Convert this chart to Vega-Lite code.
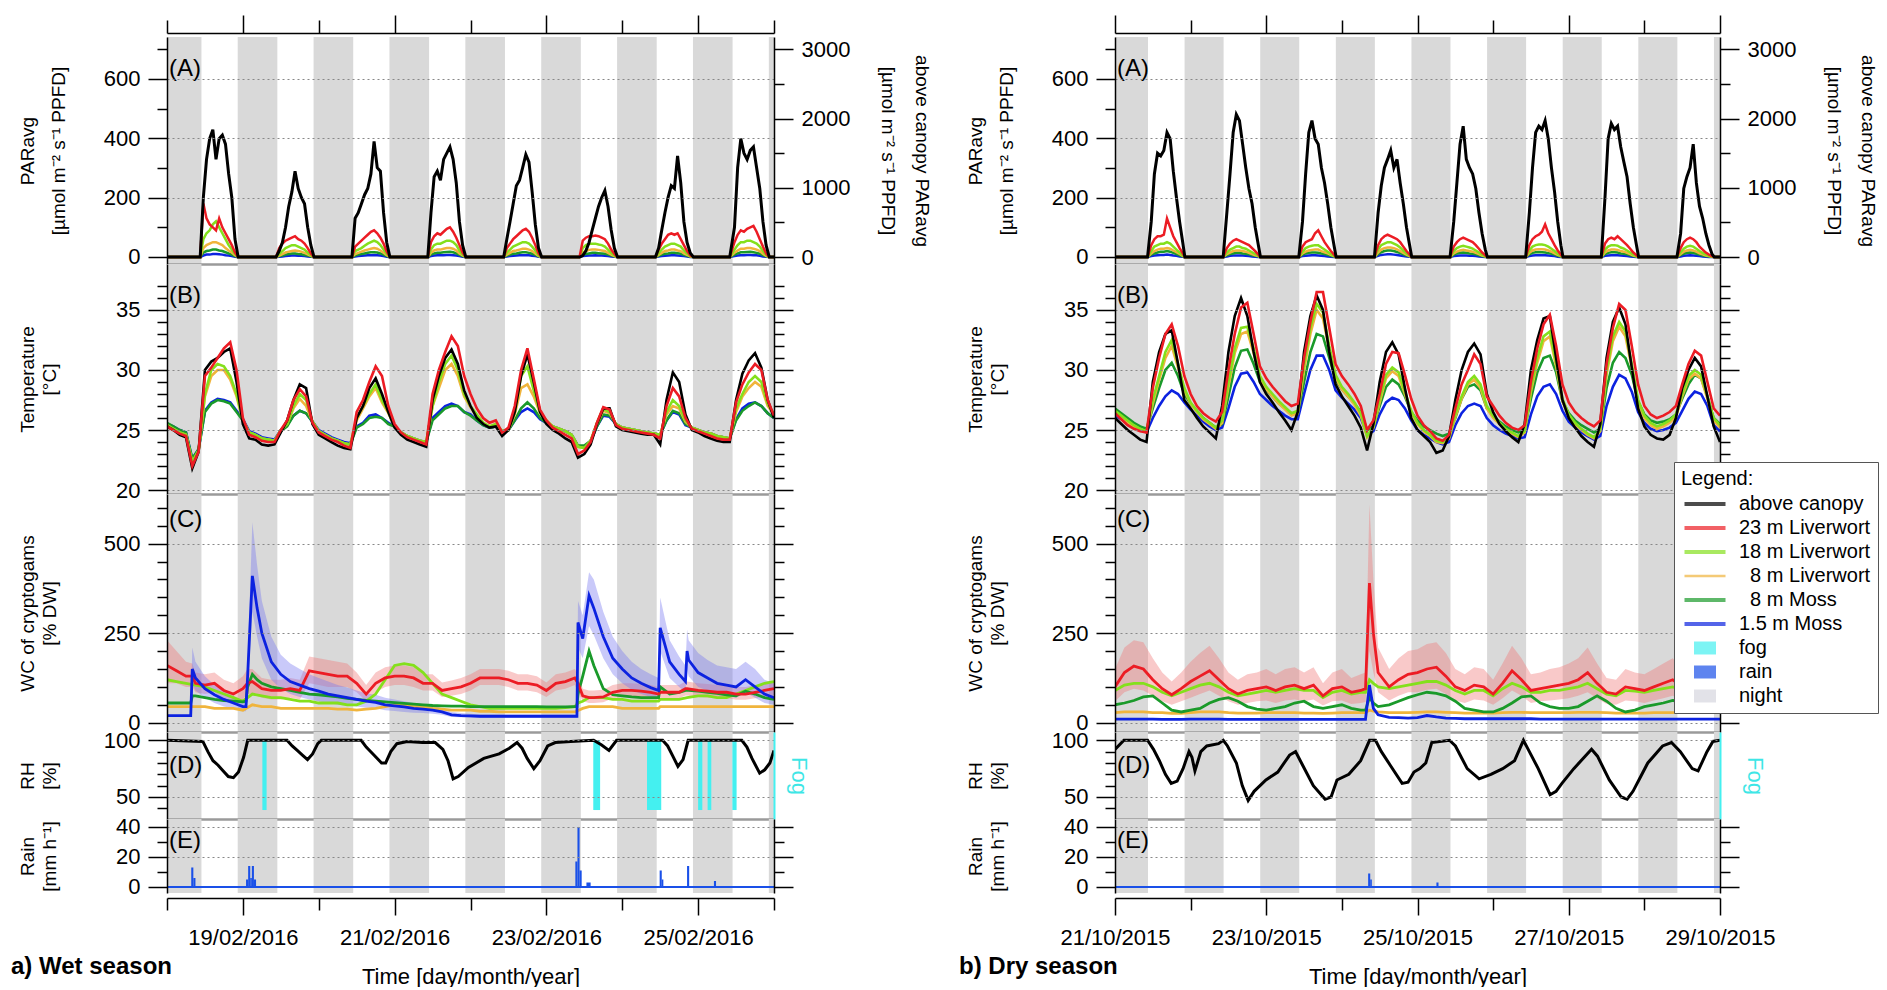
{
"$schema":"https://vega.github.io/schema/vega-lite/v6.json",
"background":"white",
"padding":{"left":11,"top":14,"right":0,"bottom":0},
"config":{"font":"Liberation Sans","view":{"stroke":null},
 "axis":{"labelFont":"Liberation Sans","titleFont":"Liberation Sans","labelColor":"#000","titleColor":"#000","titleFontWeight":"normal","domainColor":"#000","tickColor":"#000","labelFontSize":22,"titleFontSize":19,"labelOverlap":false,"labelBound":false},
 "text":{"font":"Liberation Sans","fontSize":24,"color":"#000"},
 "title":{"font":"Liberation Sans","color":"#000"}},
"datasets":{
"wN":[{"s":"2016-02-18T00:00","e":"2016-02-18T10:54"},{"s":"2016-02-18T22:22","e":"2016-02-19T10:54"},{"s":"2016-02-19T22:22","e":"2016-02-20T10:54"},{"s":"2016-02-20T22:22","e":"2016-02-21T10:54"},{"s":"2016-02-21T22:22","e":"2016-02-22T10:54"},{"s":"2016-02-22T22:22","e":"2016-02-23T10:54"},{"s":"2016-02-23T22:22","e":"2016-02-24T10:54"},{"s":"2016-02-24T22:22","e":"2016-02-25T10:54"},{"s":"2016-02-25T22:22","e":"2016-02-26T00:00"}],
"dN":[{"s":"2015-10-21T00:00","e":"2015-10-21T10:28"},{"s":"2015-10-21T22:05","e":"2015-10-22T10:28"},{"s":"2015-10-22T22:05","e":"2015-10-23T10:28"},{"s":"2015-10-23T22:05","e":"2015-10-24T10:28"},{"s":"2015-10-24T22:05","e":"2015-10-25T10:28"},{"s":"2015-10-25T22:05","e":"2015-10-26T10:28"},{"s":"2015-10-26T22:05","e":"2015-10-27T10:28"},{"s":"2015-10-27T22:05","e":"2015-10-28T10:28"},{"s":"2015-10-28T22:05","e":"2015-10-29T00:00"}],
"wA":[
{"t":"2016-02-18T00:00","k":0,"r":0,"l":0,"o":0,"g":0,"b":0},
{"t":"2016-02-18T10:30","k":0,"r":0,"l":0,"o":0,"g":0,"b":0},
{"t":"2016-02-18T11:30","k":860,"r":180,"l":60,"o":30,"g":15,"b":5},
{"t":"2016-02-18T12:30","k":1410,"r":130,"l":80,"o":40,"g":20,"b":8},
{"t":"2016-02-18T13:30","k":1710,"r":110,"l":90,"o":45,"g":22,"b":8},
{"t":"2016-02-18T14:30","k":1840,"r":100,"l":110,"o":50,"g":25,"b":10},
{"t":"2016-02-18T15:30","k":1410,"r":90,"l":120,"o":50,"g":25,"b":10},
{"t":"2016-02-18T16:30","k":1710,"r":130,"l":100,"o":45,"g":22,"b":9},
{"t":"2016-02-18T17:30","k":1760,"r":100,"l":80,"o":40,"g":20,"b":8},
{"t":"2016-02-18T18:30","k":1630,"r":80,"l":60,"o":30,"g":16,"b":6},
{"t":"2016-02-18T19:30","k":1200,"r":60,"l":40,"o":22,"g":12,"b":5},
{"t":"2016-02-18T20:30","k":860,"r":40,"l":25,"o":15,"g":8,"b":3},
{"t":"2016-02-18T21:30","k":260,"r":15,"l":10,"o":6,"g":3,"b":1},
{"t":"2016-02-18T22:30","k":0,"r":0,"l":0,"o":0,"g":0,"b":0},
{"t":"2016-02-19T10:30","k":0,"r":0,"l":0,"o":0,"g":0,"b":0},
{"t":"2016-02-19T11:30","k":90,"r":30,"l":10,"o":5,"g":3,"b":1},
{"t":"2016-02-19T12:30","k":210,"r":45,"l":20,"o":10,"g":5,"b":2},
{"t":"2016-02-19T13:30","k":430,"r":55,"l":30,"o":15,"g":8,"b":3},
{"t":"2016-02-19T14:30","k":730,"r":60,"l":35,"o":18,"g":10,"b":4},
{"t":"2016-02-19T15:30","k":940,"r":65,"l":40,"o":20,"g":12,"b":5},
{"t":"2016-02-19T16:30","k":1240,"r":70,"l":40,"o":22,"g":12,"b":5},
{"t":"2016-02-19T17:30","k":990,"r":60,"l":35,"o":20,"g":10,"b":4},
{"t":"2016-02-19T18:30","k":860,"r":55,"l":30,"o":18,"g":9,"b":4},
{"t":"2016-02-19T19:30","k":770,"r":45,"l":25,"o":14,"g":7,"b":3},
{"t":"2016-02-19T20:30","k":430,"r":30,"l":15,"o":9,"g":5,"b":2},
{"t":"2016-02-19T21:30","k":170,"r":12,"l":6,"o":4,"g":2,"b":1},
{"t":"2016-02-19T22:30","k":0,"r":0,"l":0,"o":0,"g":0,"b":0},
{"t":"2016-02-20T10:30","k":0,"r":0,"l":0,"o":0,"g":0,"b":0},
{"t":"2016-02-20T11:30","k":560,"r":35,"l":20,"o":10,"g":5,"b":2},
{"t":"2016-02-20T12:30","k":640,"r":45,"l":25,"o":14,"g":8,"b":3},
{"t":"2016-02-20T13:30","k":770,"r":55,"l":30,"o":18,"g":10,"b":4},
{"t":"2016-02-20T14:30","k":900,"r":65,"l":38,"o":22,"g":12,"b":5},
{"t":"2016-02-20T15:30","k":990,"r":75,"l":45,"o":25,"g":14,"b":6},
{"t":"2016-02-20T16:30","k":1200,"r":85,"l":50,"o":28,"g":16,"b":6},
{"t":"2016-02-20T17:30","k":1670,"r":90,"l":55,"o":30,"g":16,"b":7},
{"t":"2016-02-20T18:30","k":1290,"r":80,"l":50,"o":28,"g":15,"b":6},
{"t":"2016-02-20T19:30","k":1240,"r":65,"l":40,"o":22,"g":12,"b":5},
{"t":"2016-02-20T20:30","k":640,"r":45,"l":25,"o":14,"g":8,"b":3},
{"t":"2016-02-20T21:30","k":210,"r":18,"l":10,"o":6,"g":3,"b":1},
{"t":"2016-02-20T22:30","k":0,"r":0,"l":0,"o":0,"g":0,"b":0},
{"t":"2016-02-21T10:30","k":0,"r":0,"l":0,"o":0,"g":0,"b":0},
{"t":"2016-02-21T11:30","k":640,"r":50,"l":25,"o":14,"g":8,"b":3},
{"t":"2016-02-21T12:30","k":1160,"r":70,"l":40,"o":22,"g":12,"b":5},
{"t":"2016-02-21T13:30","k":1240,"r":80,"l":45,"o":25,"g":14,"b":6},
{"t":"2016-02-21T14:30","k":1110,"r":75,"l":45,"o":25,"g":14,"b":6},
{"t":"2016-02-21T15:30","k":1410,"r":85,"l":50,"o":28,"g":16,"b":6},
{"t":"2016-02-21T16:30","k":1500,"r":95,"l":55,"o":30,"g":17,"b":7},
{"t":"2016-02-21T17:30","k":1590,"r":100,"l":55,"o":30,"g":18,"b":7},
{"t":"2016-02-21T18:30","k":1410,"r":85,"l":50,"o":28,"g":16,"b":6},
{"t":"2016-02-21T19:30","k":1070,"r":65,"l":40,"o":22,"g":12,"b":5},
{"t":"2016-02-21T20:30","k":510,"r":40,"l":22,"o":12,"g":7,"b":3},
{"t":"2016-02-21T21:30","k":170,"r":15,"l":8,"o":5,"g":3,"b":1},
{"t":"2016-02-21T22:30","k":0,"r":0,"l":0,"o":0,"g":0,"b":0},
{"t":"2016-02-22T10:30","k":0,"r":0,"l":0,"o":0,"g":0,"b":0},
{"t":"2016-02-22T11:30","k":260,"r":30,"l":15,"o":8,"g":5,"b":2},
{"t":"2016-02-22T12:30","k":510,"r":45,"l":25,"o":14,"g":8,"b":3},
{"t":"2016-02-22T13:30","k":770,"r":60,"l":35,"o":20,"g":11,"b":4},
{"t":"2016-02-22T14:30","k":1030,"r":70,"l":40,"o":22,"g":12,"b":5},
{"t":"2016-02-22T15:30","k":1110,"r":80,"l":45,"o":25,"g":14,"b":6},
{"t":"2016-02-22T16:30","k":1290,"r":90,"l":50,"o":28,"g":16,"b":6},
{"t":"2016-02-22T17:30","k":1480,"r":95,"l":50,"o":28,"g":16,"b":6},
{"t":"2016-02-22T18:30","k":1370,"r":85,"l":45,"o":25,"g":14,"b":6},
{"t":"2016-02-22T19:30","k":940,"r":65,"l":35,"o":20,"g":11,"b":4},
{"t":"2016-02-22T20:30","k":470,"r":40,"l":22,"o":12,"g":7,"b":3},
{"t":"2016-02-22T21:30","k":130,"r":12,"l":6,"o":4,"g":2,"b":1},
{"t":"2016-02-22T22:30","k":0,"r":0,"l":0,"o":0,"g":0,"b":0},
{"t":"2016-02-23T10:30","k":0,"r":0,"l":0,"o":0,"g":0,"b":0},
{"t":"2016-02-23T11:30","k":20,"r":55,"l":30,"o":15,"g":8,"b":3},
{"t":"2016-02-23T12:30","k":90,"r":65,"l":40,"o":20,"g":10,"b":4},
{"t":"2016-02-23T13:30","k":210,"r":70,"l":45,"o":24,"g":12,"b":5},
{"t":"2016-02-23T14:30","k":390,"r":70,"l":45,"o":25,"g":14,"b":5},
{"t":"2016-02-23T15:30","k":560,"r":72,"l":45,"o":25,"g":14,"b":6},
{"t":"2016-02-23T16:30","k":730,"r":70,"l":42,"o":24,"g":13,"b":5},
{"t":"2016-02-23T17:30","k":860,"r":65,"l":40,"o":22,"g":12,"b":5},
{"t":"2016-02-23T18:30","k":960,"r":60,"l":35,"o":20,"g":11,"b":4},
{"t":"2016-02-23T19:30","k":730,"r":45,"l":25,"o":14,"g":8,"b":3},
{"t":"2016-02-23T20:30","k":390,"r":25,"l":14,"o":8,"g":5,"b":2},
{"t":"2016-02-23T21:30","k":130,"r":10,"l":5,"o":3,"g":2,"b":1},
{"t":"2016-02-23T22:30","k":0,"r":0,"l":0,"o":0,"g":0,"b":0},
{"t":"2016-02-24T10:30","k":0,"r":0,"l":0,"o":0,"g":0,"b":0},
{"t":"2016-02-24T11:30","k":130,"r":25,"l":12,"o":7,"g":4,"b":2},
{"t":"2016-02-24T12:30","k":390,"r":45,"l":25,"o":14,"g":8,"b":3},
{"t":"2016-02-24T13:30","k":640,"r":60,"l":35,"o":20,"g":11,"b":4},
{"t":"2016-02-24T14:30","k":860,"r":75,"l":40,"o":22,"g":12,"b":5},
{"t":"2016-02-24T15:30","k":1030,"r":80,"l":45,"o":25,"g":14,"b":6},
{"t":"2016-02-24T16:30","k":990,"r":75,"l":45,"o":25,"g":14,"b":6},
{"t":"2016-02-24T17:30","k":1460,"r":80,"l":40,"o":22,"g":13,"b":5},
{"t":"2016-02-24T18:30","k":1070,"r":60,"l":35,"o":20,"g":11,"b":4},
{"t":"2016-02-24T19:30","k":510,"r":40,"l":22,"o":12,"g":7,"b":3},
{"t":"2016-02-24T20:30","k":210,"r":20,"l":12,"o":7,"g":4,"b":2},
{"t":"2016-02-24T21:30","k":60,"r":6,"l":4,"o":2,"g":1,"b":0},
{"t":"2016-02-24T22:30","k":0,"r":0,"l":0,"o":0,"g":0,"b":0},
{"t":"2016-02-25T10:00","k":0,"r":0,"l":0,"o":0,"g":0,"b":0},
{"t":"2016-02-25T11:30","k":430,"r":50,"l":25,"o":14,"g":8,"b":3},
{"t":"2016-02-25T12:30","k":1290,"r":75,"l":40,"o":22,"g":12,"b":5},
{"t":"2016-02-25T13:30","k":1710,"r":90,"l":50,"o":28,"g":16,"b":6},
{"t":"2016-02-25T14:30","k":1500,"r":85,"l":50,"o":28,"g":16,"b":6},
{"t":"2016-02-25T15:30","k":1410,"r":95,"l":55,"o":30,"g":17,"b":7},
{"t":"2016-02-25T16:30","k":1540,"r":100,"l":55,"o":30,"g":18,"b":7},
{"t":"2016-02-25T17:30","k":1590,"r":105,"l":50,"o":28,"g":16,"b":6},
{"t":"2016-02-25T18:30","k":1290,"r":85,"l":45,"o":25,"g":14,"b":6},
{"t":"2016-02-25T19:30","k":990,"r":60,"l":35,"o":20,"g":11,"b":4},
{"t":"2016-02-25T20:30","k":510,"r":35,"l":20,"o":11,"g":6,"b":2},
{"t":"2016-02-25T21:30","k":170,"r":12,"l":7,"o":4,"g":2,"b":1},
{"t":"2016-02-25T22:30","k":0,"r":0,"l":0,"o":0,"g":0,"b":0},
{"t":"2016-02-26T00:00","k":0,"r":0,"l":0,"o":0,"g":0,"b":0}],
"dA":[
{"t":"2015-10-21T00:00","k":0,"r":0,"l":0,"o":0,"g":0,"b":0},
{"t":"2015-10-21T10:20","k":0,"r":0,"l":0,"o":0,"g":0,"b":0},
{"t":"2015-10-21T11:30","k":510,"r":40,"l":20,"o":12,"g":8,"b":3},
{"t":"2015-10-21T12:30","k":1200,"r":60,"l":35,"o":20,"g":12,"b":5},
{"t":"2015-10-21T13:30","k":1500,"r":70,"l":40,"o":25,"g":15,"b":6},
{"t":"2015-10-21T14:30","k":1460,"r":70,"l":45,"o":28,"g":18,"b":7},
{"t":"2015-10-21T15:30","k":1540,"r":75,"l":45,"o":28,"g":18,"b":7},
{"t":"2015-10-21T16:30","k":1800,"r":130,"l":50,"o":30,"g":20,"b":8},
{"t":"2015-10-21T17:30","k":1710,"r":100,"l":45,"o":28,"g":18,"b":7},
{"t":"2015-10-21T18:30","k":1240,"r":70,"l":35,"o":22,"g":14,"b":5},
{"t":"2015-10-21T19:30","k":860,"r":50,"l":25,"o":16,"g":10,"b":4},
{"t":"2015-10-21T20:30","k":510,"r":30,"l":15,"o":10,"g":6,"b":2},
{"t":"2015-10-21T21:30","k":210,"r":12,"l":6,"o":4,"g":2,"b":1},
{"t":"2015-10-21T22:10","k":0,"r":0,"l":0,"o":0,"g":0,"b":0},
{"t":"2015-10-22T10:20","k":0,"r":0,"l":0,"o":0,"g":0,"b":0},
{"t":"2015-10-22T11:30","k":640,"r":30,"l":15,"o":10,"g":6,"b":2},
{"t":"2015-10-22T12:30","k":1200,"r":45,"l":25,"o":15,"g":10,"b":4},
{"t":"2015-10-22T13:30","k":1800,"r":55,"l":30,"o":20,"g":12,"b":5},
{"t":"2015-10-22T14:30","k":2060,"r":60,"l":35,"o":22,"g":14,"b":5},
{"t":"2015-10-22T15:30","k":1970,"r":55,"l":35,"o":22,"g":14,"b":5},
{"t":"2015-10-22T16:30","k":1630,"r":50,"l":30,"o":20,"g":12,"b":5},
{"t":"2015-10-22T17:30","k":1290,"r":45,"l":28,"o":18,"g":11,"b":4},
{"t":"2015-10-22T18:30","k":990,"r":40,"l":22,"o":14,"g":9,"b":3},
{"t":"2015-10-22T19:30","k":770,"r":30,"l":16,"o":10,"g":6,"b":2},
{"t":"2015-10-22T20:30","k":430,"r":20,"l":10,"o":6,"g":4,"b":1},
{"t":"2015-10-22T21:30","k":170,"r":8,"l":4,"o":3,"g":2,"b":0},
{"t":"2015-10-22T22:10","k":0,"r":0,"l":0,"o":0,"g":0,"b":0},
{"t":"2015-10-23T10:20","k":0,"r":0,"l":0,"o":0,"g":0,"b":0},
{"t":"2015-10-23T11:30","k":510,"r":35,"l":18,"o":12,"g":8,"b":3},
{"t":"2015-10-23T12:30","k":1200,"r":50,"l":30,"o":18,"g":12,"b":4},
{"t":"2015-10-23T13:30","k":1800,"r":55,"l":35,"o":22,"g":14,"b":5},
{"t":"2015-10-23T14:30","k":1970,"r":60,"l":38,"o":24,"g":15,"b":6},
{"t":"2015-10-23T15:30","k":1710,"r":80,"l":40,"o":25,"g":15,"b":6},
{"t":"2015-10-23T16:30","k":1630,"r":90,"l":40,"o":25,"g":14,"b":5},
{"t":"2015-10-23T17:30","k":1290,"r":70,"l":32,"o":20,"g":12,"b":4},
{"t":"2015-10-23T18:30","k":1070,"r":50,"l":25,"o":16,"g":10,"b":3},
{"t":"2015-10-23T19:30","k":770,"r":35,"l":18,"o":12,"g":7,"b":2},
{"t":"2015-10-23T20:30","k":430,"r":20,"l":10,"o":7,"g":4,"b":1},
{"t":"2015-10-23T21:30","k":170,"r":8,"l":4,"o":3,"g":2,"b":0},
{"t":"2015-10-23T22:10","k":0,"r":0,"l":0,"o":0,"g":0,"b":0},
{"t":"2015-10-24T10:20","k":0,"r":0,"l":0,"o":0,"g":0,"b":0},
{"t":"2015-10-24T11:30","k":640,"r":40,"l":25,"o":15,"g":10,"b":4},
{"t":"2015-10-24T12:30","k":1030,"r":60,"l":40,"o":25,"g":16,"b":7},
{"t":"2015-10-24T13:30","k":1290,"r":70,"l":45,"o":30,"g":20,"b":8},
{"t":"2015-10-24T14:30","k":1410,"r":75,"l":50,"o":32,"g":22,"b":9},
{"t":"2015-10-24T15:30","k":1540,"r":70,"l":50,"o":32,"g":22,"b":9},
{"t":"2015-10-24T16:30","k":1290,"r":65,"l":45,"o":30,"g":20,"b":8},
{"t":"2015-10-24T17:30","k":1410,"r":60,"l":40,"o":26,"g":17,"b":7},
{"t":"2015-10-24T18:30","k":1070,"r":50,"l":32,"o":20,"g":13,"b":5},
{"t":"2015-10-24T19:30","k":770,"r":35,"l":22,"o":14,"g":9,"b":3},
{"t":"2015-10-24T20:30","k":430,"r":20,"l":12,"o":8,"g":5,"b":2},
{"t":"2015-10-24T21:30","k":170,"r":8,"l":5,"o":3,"g":2,"b":1},
{"t":"2015-10-24T22:10","k":0,"r":0,"l":0,"o":0,"g":0,"b":0},
{"t":"2015-10-25T10:20","k":0,"r":0,"l":0,"o":0,"g":0,"b":0},
{"t":"2015-10-25T11:30","k":510,"r":35,"l":20,"o":12,"g":8,"b":3},
{"t":"2015-10-25T12:30","k":1070,"r":50,"l":30,"o":18,"g":12,"b":4},
{"t":"2015-10-25T13:30","k":1630,"r":60,"l":35,"o":22,"g":14,"b":5},
{"t":"2015-10-25T14:30","k":1890,"r":65,"l":38,"o":24,"g":15,"b":5},
{"t":"2015-10-25T15:30","k":1410,"r":60,"l":35,"o":22,"g":14,"b":5},
{"t":"2015-10-25T16:30","k":1290,"r":55,"l":32,"o":20,"g":12,"b":4},
{"t":"2015-10-25T17:30","k":1200,"r":50,"l":28,"o":18,"g":11,"b":4},
{"t":"2015-10-25T18:30","k":990,"r":40,"l":22,"o":14,"g":9,"b":3},
{"t":"2015-10-25T19:30","k":640,"r":28,"l":15,"o":10,"g":6,"b":2},
{"t":"2015-10-25T20:30","k":340,"r":15,"l":8,"o":5,"g":3,"b":1},
{"t":"2015-10-25T21:30","k":110,"r":6,"l":3,"o":2,"g":1,"b":0},
{"t":"2015-10-25T22:10","k":0,"r":0,"l":0,"o":0,"g":0,"b":0},
{"t":"2015-10-26T10:20","k":0,"r":0,"l":0,"o":0,"g":0,"b":0},
{"t":"2015-10-26T11:30","k":640,"r":40,"l":22,"o":14,"g":9,"b":3},
{"t":"2015-10-26T12:30","k":1290,"r":60,"l":35,"o":22,"g":14,"b":5},
{"t":"2015-10-26T13:30","k":1800,"r":70,"l":40,"o":25,"g":16,"b":6},
{"t":"2015-10-26T14:30","k":1890,"r":75,"l":42,"o":26,"g":17,"b":6},
{"t":"2015-10-26T15:30","k":1840,"r":85,"l":42,"o":26,"g":16,"b":6},
{"t":"2015-10-26T16:30","k":1970,"r":110,"l":40,"o":25,"g":15,"b":6},
{"t":"2015-10-26T17:30","k":1710,"r":80,"l":35,"o":22,"g":13,"b":5},
{"t":"2015-10-26T18:30","k":1290,"r":60,"l":28,"o":18,"g":11,"b":4},
{"t":"2015-10-26T19:30","k":940,"r":40,"l":20,"o":12,"g":8,"b":3},
{"t":"2015-10-26T20:30","k":510,"r":22,"l":11,"o":7,"g":4,"b":1},
{"t":"2015-10-26T21:30","k":170,"r":8,"l":4,"o":3,"g":2,"b":0},
{"t":"2015-10-26T22:10","k":0,"r":0,"l":0,"o":0,"g":0,"b":0},
{"t":"2015-10-27T10:20","k":0,"r":0,"l":0,"o":0,"g":0,"b":0},
{"t":"2015-10-27T11:30","k":860,"r":45,"l":25,"o":15,"g":10,"b":4},
{"t":"2015-10-27T12:30","k":1710,"r":60,"l":35,"o":22,"g":14,"b":5},
{"t":"2015-10-27T13:30","k":1930,"r":65,"l":40,"o":25,"g":16,"b":6},
{"t":"2015-10-27T14:30","k":1840,"r":60,"l":40,"o":25,"g":16,"b":6},
{"t":"2015-10-27T15:30","k":1890,"r":70,"l":38,"o":24,"g":15,"b":6},
{"t":"2015-10-27T16:30","k":1590,"r":60,"l":32,"o":20,"g":12,"b":5},
{"t":"2015-10-27T17:30","k":1370,"r":50,"l":28,"o":18,"g":11,"b":4},
{"t":"2015-10-27T18:30","k":1160,"r":40,"l":22,"o":14,"g":9,"b":3},
{"t":"2015-10-27T19:30","k":770,"r":28,"l":15,"o":10,"g":6,"b":2},
{"t":"2015-10-27T20:30","k":430,"r":15,"l":8,"o":5,"g":3,"b":1},
{"t":"2015-10-27T21:30","k":170,"r":6,"l":3,"o":2,"g":1,"b":0},
{"t":"2015-10-27T22:10","k":0,"r":0,"l":0,"o":0,"g":0,"b":0},
{"t":"2015-10-28T10:20","k":0,"r":0,"l":0,"o":0,"g":0,"b":0},
{"t":"2015-10-28T11:30","k":340,"r":30,"l":16,"o":10,"g":6,"b":2},
{"t":"2015-10-28T12:30","k":990,"r":50,"l":28,"o":18,"g":11,"b":4},
{"t":"2015-10-28T13:30","k":1160,"r":60,"l":35,"o":22,"g":14,"b":5},
{"t":"2015-10-28T14:30","k":1290,"r":65,"l":38,"o":24,"g":15,"b":6},
{"t":"2015-10-28T15:30","k":1630,"r":60,"l":35,"o":22,"g":14,"b":5},
{"t":"2015-10-28T16:30","k":1070,"r":50,"l":28,"o":18,"g":11,"b":4},
{"t":"2015-10-28T17:30","k":730,"r":35,"l":20,"o":12,"g":8,"b":3},
{"t":"2015-10-28T18:30","k":560,"r":25,"l":14,"o":9,"g":5,"b":2},
{"t":"2015-10-28T19:30","k":340,"r":15,"l":8,"o":5,"g":3,"b":1},
{"t":"2015-10-28T20:30","k":170,"r":8,"l":4,"o":3,"g":2,"b":0},
{"t":"2015-10-28T21:30","k":40,"r":3,"l":2,"o":1,"g":1,"b":0},
{"t":"2015-10-28T22:10","k":0,"r":0,"l":0,"o":0,"g":0,"b":0},
{"t":"2015-10-29T00:00","k":0,"r":0,"l":0,"o":0,"g":0,"b":0}],
"wB":[
{"t":"2016-02-18T00:00","k":25.3,"r":25.3,"l":25.4,"o":25.4,"g":25.6,"b":25.5},
{"t":"2016-02-18T02:00","k":25.0,"r":25.0,"l":25.1,"o":25.1,"g":25.3,"b":25.3},
{"t":"2016-02-18T04:00","k":24.6,"r":24.7,"l":24.8,"o":24.8,"g":25.0,"b":25.0},
{"t":"2016-02-18T06:00","k":24.4,"r":24.5,"l":24.6,"o":24.6,"g":24.8,"b":24.8},
{"t":"2016-02-18T08:00","k":21.8,"r":22.0,"l":22.3,"o":22.3,"g":22.6,"b":22.6},
{"t":"2016-02-18T10:00","k":23.2,"r":23.2,"l":23.3,"o":23.3,"g":23.4,"b":23.4},
{"t":"2016-02-18T12:00","k":30.0,"r":29.5,"l":28.0,"o":27.8,"g":26.5,"b":26.6},
{"t":"2016-02-18T14:00","k":30.7,"r":30.2,"l":30.0,"o":29.5,"g":27.2,"b":27.3},
{"t":"2016-02-18T16:00","k":31.0,"r":31.0,"l":30.5,"o":30.0,"g":27.5,"b":27.6},
{"t":"2016-02-18T18:00","k":31.5,"r":31.8,"l":30.3,"o":30.0,"g":27.4,"b":27.5},
{"t":"2016-02-18T20:00","k":31.8,"r":32.3,"l":29.5,"o":29.2,"g":27.2,"b":27.3},
{"t":"2016-02-18T22:00","k":29.0,"r":30.0,"l":28.0,"o":27.8,"g":26.5,"b":26.6},
{"t":"2016-02-19T00:00","k":25.5,"r":26.0,"l":25.8,"o":25.8,"g":25.8,"b":25.9},
{"t":"2016-02-19T02:00","k":24.3,"r":24.6,"l":24.8,"o":24.8,"g":24.8,"b":24.9},
{"t":"2016-02-19T04:00","k":24.2,"r":24.4,"l":24.6,"o":24.6,"g":24.6,"b":24.7},
{"t":"2016-02-19T06:00","k":23.8,"r":24.1,"l":24.3,"o":24.3,"g":24.3,"b":24.4},
{"t":"2016-02-19T08:00","k":23.7,"r":24.0,"l":24.2,"o":24.2,"g":24.2,"b":24.3},
{"t":"2016-02-19T10:00","k":23.8,"r":24.0,"l":24.1,"o":24.1,"g":24.1,"b":24.2},
{"t":"2016-02-19T12:00","k":24.8,"r":25.0,"l":25.0,"o":25.0,"g":24.9,"b":25.0},
{"t":"2016-02-19T14:00","k":25.8,"r":25.8,"l":25.5,"o":25.5,"g":25.3,"b":25.4},
{"t":"2016-02-19T16:00","k":27.5,"r":27.5,"l":27.0,"o":26.8,"g":26.2,"b":26.2},
{"t":"2016-02-19T18:00","k":28.8,"r":28.4,"l":28.0,"o":27.6,"g":26.6,"b":26.6},
{"t":"2016-02-19T20:00","k":28.5,"r":27.8,"l":27.5,"o":27.0,"g":26.4,"b":26.4},
{"t":"2016-02-19T22:00","k":25.5,"r":25.6,"l":25.7,"o":25.7,"g":25.7,"b":25.7},
{"t":"2016-02-20T00:00","k":24.6,"r":24.8,"l":24.9,"o":24.9,"g":24.9,"b":25.0},
{"t":"2016-02-20T02:00","k":24.3,"r":24.5,"l":24.6,"o":24.6,"g":24.6,"b":24.7},
{"t":"2016-02-20T04:00","k":24.0,"r":24.2,"l":24.3,"o":24.3,"g":24.3,"b":24.4},
{"t":"2016-02-20T06:00","k":23.7,"r":24.0,"l":24.1,"o":24.1,"g":24.1,"b":24.2},
{"t":"2016-02-20T08:00","k":23.5,"r":23.7,"l":23.9,"o":23.9,"g":23.9,"b":24.0},
{"t":"2016-02-20T10:00","k":23.4,"r":23.5,"l":23.8,"o":23.8,"g":23.8,"b":23.9},
{"t":"2016-02-20T12:00","k":26.0,"r":26.5,"l":26.0,"o":25.8,"g":25.2,"b":25.3},
{"t":"2016-02-20T14:00","k":27.0,"r":27.5,"l":27.0,"o":26.8,"g":25.5,"b":25.6},
{"t":"2016-02-20T16:00","k":28.5,"r":29.0,"l":28.0,"o":27.8,"g":26.0,"b":26.2},
{"t":"2016-02-20T18:00","k":29.3,"r":30.3,"l":28.8,"o":28.5,"g":26.1,"b":26.3},
{"t":"2016-02-20T20:00","k":28.0,"r":29.5,"l":27.5,"o":27.3,"g":26.0,"b":26.0},
{"t":"2016-02-20T22:00","k":26.5,"r":27.0,"l":26.5,"o":26.4,"g":25.5,"b":25.6},
{"t":"2016-02-21T00:00","k":25.2,"r":25.5,"l":25.3,"o":25.3,"g":25.3,"b":25.3},
{"t":"2016-02-21T02:00","k":24.6,"r":24.8,"l":24.8,"o":24.8,"g":24.8,"b":24.8},
{"t":"2016-02-21T04:00","k":24.2,"r":24.4,"l":24.5,"o":24.5,"g":24.5,"b":24.5},
{"t":"2016-02-21T06:00","k":24.0,"r":24.2,"l":24.3,"o":24.3,"g":24.3,"b":24.3},
{"t":"2016-02-21T08:00","k":23.8,"r":24.0,"l":24.1,"o":24.1,"g":24.1,"b":24.1},
{"t":"2016-02-21T10:00","k":23.6,"r":23.8,"l":24.0,"o":24.0,"g":24.0,"b":24.0},
{"t":"2016-02-21T12:00","k":27.5,"r":28.0,"l":27.0,"o":27.0,"g":25.8,"b":26.0},
{"t":"2016-02-21T14:00","k":29.5,"r":30.0,"l":29.0,"o":28.5,"g":26.3,"b":26.5},
{"t":"2016-02-21T16:00","k":31.0,"r":31.5,"l":30.5,"o":30.0,"g":26.8,"b":27.0},
{"t":"2016-02-21T18:00","k":31.7,"r":32.8,"l":31.2,"o":30.5,"g":27.0,"b":27.2},
{"t":"2016-02-21T20:00","k":30.5,"r":32.0,"l":30.0,"o":29.5,"g":27.0,"b":27.0},
{"t":"2016-02-21T22:00","k":28.3,"r":29.5,"l":28.0,"o":27.8,"g":26.5,"b":26.5},
{"t":"2016-02-22T00:00","k":27.0,"r":28.0,"l":27.0,"o":26.9,"g":26.2,"b":26.3},
{"t":"2016-02-22T02:00","k":26.0,"r":26.8,"l":26.3,"o":26.2,"g":25.8,"b":25.8},
{"t":"2016-02-22T04:00","k":25.5,"r":26.0,"l":25.6,"o":25.6,"g":25.4,"b":25.4},
{"t":"2016-02-22T06:00","k":25.2,"r":25.6,"l":25.3,"o":25.3,"g":25.2,"b":25.2},
{"t":"2016-02-22T08:00","k":25.3,"r":25.8,"l":25.5,"o":25.5,"g":25.3,"b":25.3},
{"t":"2016-02-22T10:00","k":24.5,"r":24.8,"l":24.9,"o":24.9,"g":24.9,"b":24.9},
{"t":"2016-02-22T12:00","k":25.0,"r":25.2,"l":25.0,"o":25.0,"g":25.0,"b":25.0},
{"t":"2016-02-22T14:00","k":26.5,"r":27.0,"l":26.5,"o":26.3,"g":25.8,"b":25.8},
{"t":"2016-02-22T16:00","k":29.5,"r":30.0,"l":29.5,"o":28.5,"g":26.8,"b":26.5},
{"t":"2016-02-22T18:00","k":31.3,"r":31.8,"l":30.3,"o":28.8,"g":27.3,"b":26.8},
{"t":"2016-02-22T20:00","k":29.0,"r":29.3,"l":28.3,"o":27.8,"g":26.8,"b":26.5},
{"t":"2016-02-22T22:00","k":26.5,"r":26.7,"l":26.5,"o":26.4,"g":26.0,"b":25.9},
{"t":"2016-02-23T00:00","k":25.5,"r":25.8,"l":25.8,"o":25.8,"g":25.6,"b":25.6},
{"t":"2016-02-23T02:00","k":25.0,"r":25.2,"l":25.3,"o":25.3,"g":25.3,"b":25.3},
{"t":"2016-02-23T04:00","k":24.7,"r":24.9,"l":25.1,"o":25.1,"g":25.1,"b":25.1},
{"t":"2016-02-23T06:00","k":24.3,"r":24.6,"l":24.9,"o":24.9,"g":24.9,"b":24.9},
{"t":"2016-02-23T08:00","k":24.0,"r":24.3,"l":24.6,"o":24.6,"g":24.6,"b":24.6},
{"t":"2016-02-23T10:00","k":22.7,"r":23.0,"l":23.6,"o":23.6,"g":23.7,"b":23.6},
{"t":"2016-02-23T12:00","k":23.0,"r":23.3,"l":23.5,"o":23.5,"g":23.7,"b":23.6},
{"t":"2016-02-23T14:00","k":23.8,"r":24.0,"l":24.1,"o":24.1,"g":24.1,"b":24.1},
{"t":"2016-02-23T16:00","k":25.5,"r":25.6,"l":25.6,"o":25.5,"g":25.3,"b":25.3},
{"t":"2016-02-23T18:00","k":26.8,"r":26.9,"l":26.8,"o":26.6,"g":26.3,"b":26.2},
{"t":"2016-02-23T20:00","k":26.8,"r":26.7,"l":26.5,"o":26.4,"g":26.2,"b":26.1},
{"t":"2016-02-23T22:00","k":25.3,"r":25.4,"l":25.5,"o":25.5,"g":25.5,"b":25.5},
{"t":"2016-02-24T00:00","k":25.0,"r":25.1,"l":25.2,"o":25.2,"g":25.2,"b":25.2},
{"t":"2016-02-24T02:00","k":24.9,"r":25.0,"l":25.1,"o":25.1,"g":25.1,"b":25.1},
{"t":"2016-02-24T04:00","k":24.8,"r":24.9,"l":25.0,"o":25.0,"g":25.0,"b":25.0},
{"t":"2016-02-24T06:00","k":24.7,"r":24.8,"l":24.9,"o":24.9,"g":24.9,"b":24.9},
{"t":"2016-02-24T08:00","k":24.6,"r":24.7,"l":24.8,"o":24.8,"g":24.8,"b":24.8},
{"t":"2016-02-24T10:00","k":24.6,"r":24.6,"l":24.7,"o":24.7,"g":24.7,"b":24.7},
{"t":"2016-02-24T12:00","k":23.8,"r":24.3,"l":24.6,"o":24.6,"g":24.6,"b":24.6},
{"t":"2016-02-24T14:00","k":27.5,"r":27.0,"l":26.5,"o":26.3,"g":25.8,"b":25.8},
{"t":"2016-02-24T16:00","k":29.8,"r":28.5,"l":27.5,"o":27.0,"g":26.6,"b":26.5},
{"t":"2016-02-24T18:00","k":29.0,"r":27.8,"l":27.0,"o":26.8,"g":26.4,"b":26.3},
{"t":"2016-02-24T20:00","k":26.3,"r":26.0,"l":25.8,"o":25.7,"g":25.5,"b":25.4},
{"t":"2016-02-24T22:00","k":25.0,"r":25.1,"l":25.2,"o":25.2,"g":25.2,"b":25.2},
{"t":"2016-02-25T00:00","k":24.8,"r":24.9,"l":25.0,"o":25.0,"g":25.0,"b":25.0},
{"t":"2016-02-25T02:00","k":24.5,"r":24.7,"l":24.8,"o":24.8,"g":24.8,"b":24.8},
{"t":"2016-02-25T04:00","k":24.3,"r":24.5,"l":24.7,"o":24.7,"g":24.7,"b":24.7},
{"t":"2016-02-25T06:00","k":24.1,"r":24.3,"l":24.5,"o":24.5,"g":24.5,"b":24.5},
{"t":"2016-02-25T08:00","k":24.0,"r":24.2,"l":24.4,"o":24.4,"g":24.4,"b":24.4},
{"t":"2016-02-25T10:00","k":24.0,"r":24.2,"l":24.3,"o":24.3,"g":24.3,"b":24.3},
{"t":"2016-02-25T12:00","k":27.5,"r":27.3,"l":26.8,"o":26.5,"g":25.8,"b":25.9},
{"t":"2016-02-25T14:00","k":29.7,"r":28.8,"l":28.0,"o":27.8,"g":26.6,"b":26.8},
{"t":"2016-02-25T16:00","k":30.8,"r":29.8,"l":29.0,"o":28.5,"g":27.0,"b":27.2},
{"t":"2016-02-25T18:00","k":31.4,"r":30.5,"l":29.5,"o":29.0,"g":27.3,"b":27.3},
{"t":"2016-02-25T20:00","k":30.2,"r":30.0,"l":29.0,"o":28.6,"g":27.0,"b":27.0},
{"t":"2016-02-25T22:00","k":27.5,"r":27.5,"l":27.2,"o":27.0,"g":26.4,"b":26.4},
{"t":"2016-02-26T00:00","k":26.0,"r":26.2,"l":26.3,"o":26.3,"g":26.0,"b":26.0}],
"dB":[
{"t":"2015-10-21T00:00","k":26.0,"r":26.4,"l":26.6,"o":26.4,"g":26.8,"b":26.2},
{"t":"2015-10-21T02:00","k":25.5,"r":25.9,"l":26.2,"o":26.0,"g":26.4,"b":25.9},
{"t":"2015-10-21T04:00","k":25.0,"r":25.4,"l":25.8,"o":25.6,"g":26.0,"b":25.6},
{"t":"2015-10-21T06:00","k":24.6,"r":25.1,"l":25.4,"o":25.2,"g":25.6,"b":25.2},
{"t":"2015-10-21T08:00","k":24.2,"r":24.9,"l":25.1,"o":25.0,"g":25.3,"b":25.0},
{"t":"2015-10-21T10:00","k":24.0,"r":24.8,"l":24.9,"o":24.8,"g":25.1,"b":24.8},
{"t":"2015-10-21T12:00","k":29.0,"r":28.5,"l":27.5,"o":27.2,"g":26.8,"b":26.0},
{"t":"2015-10-21T14:00","k":31.5,"r":31.0,"l":29.5,"o":29.2,"g":28.5,"b":27.0},
{"t":"2015-10-21T16:00","k":33.0,"r":33.0,"l":31.5,"o":31.0,"g":30.0,"b":27.8},
{"t":"2015-10-21T18:00","k":33.3,"r":33.8,"l":32.5,"o":32.0,"g":30.6,"b":28.3},
{"t":"2015-10-21T20:00","k":30.5,"r":32.0,"l":30.5,"o":30.2,"g":29.5,"b":28.0},
{"t":"2015-10-21T22:00","k":27.5,"r":29.5,"l":28.5,"o":28.3,"g":28.0,"b":27.3},
{"t":"2015-10-22T00:00","k":26.8,"r":28.0,"l":27.3,"o":27.2,"g":27.2,"b":26.7},
{"t":"2015-10-22T02:00","k":26.0,"r":27.0,"l":26.6,"o":26.5,"g":26.6,"b":26.2},
{"t":"2015-10-22T04:00","k":25.3,"r":26.4,"l":26.0,"o":25.9,"g":26.0,"b":25.7},
{"t":"2015-10-22T06:00","k":24.8,"r":26.0,"l":25.6,"o":25.5,"g":25.6,"b":25.3},
{"t":"2015-10-22T08:00","k":24.3,"r":25.7,"l":25.2,"o":25.1,"g":25.2,"b":25.0},
{"t":"2015-10-22T10:00","k":27.0,"r":26.5,"l":25.8,"o":25.6,"g":25.5,"b":25.2},
{"t":"2015-10-22T12:00","k":31.5,"r":30.0,"l":29.0,"o":28.6,"g":27.8,"b":26.8},
{"t":"2015-10-22T14:00","k":34.5,"r":33.0,"l":31.8,"o":31.4,"g":30.2,"b":28.6},
{"t":"2015-10-22T16:00","k":36.0,"r":35.2,"l":33.5,"o":33.0,"g":31.6,"b":29.7},
{"t":"2015-10-22T18:00","k":34.5,"r":35.6,"l":33.6,"o":33.2,"g":31.7,"b":29.8},
{"t":"2015-10-22T20:00","k":31.5,"r":33.0,"l":31.8,"o":31.4,"g":30.5,"b":29.0},
{"t":"2015-10-22T22:00","k":29.0,"r":30.3,"l":29.5,"o":29.3,"g":29.0,"b":28.0},
{"t":"2015-10-23T00:00","k":28.0,"r":29.3,"l":28.6,"o":28.4,"g":28.3,"b":27.5},
{"t":"2015-10-23T02:00","k":27.3,"r":28.6,"l":28.0,"o":27.8,"g":27.8,"b":27.0},
{"t":"2015-10-23T04:00","k":26.5,"r":28.0,"l":27.4,"o":27.2,"g":27.2,"b":26.6},
{"t":"2015-10-23T06:00","k":25.8,"r":27.4,"l":26.9,"o":26.7,"g":26.8,"b":26.2},
{"t":"2015-10-23T08:00","k":25.0,"r":27.0,"l":26.4,"o":26.2,"g":26.4,"b":25.9},
{"t":"2015-10-23T10:00","k":26.5,"r":27.2,"l":26.6,"o":26.4,"g":26.4,"b":25.9},
{"t":"2015-10-23T12:00","k":31.5,"r":31.0,"l":30.5,"o":30.0,"g":29.0,"b":28.0},
{"t":"2015-10-23T14:00","k":34.5,"r":34.0,"l":33.5,"o":33.0,"g":31.5,"b":30.0},
{"t":"2015-10-23T16:00","k":36.2,"r":36.5,"l":35.5,"o":35.0,"g":33.0,"b":31.2},
{"t":"2015-10-23T18:00","k":35.0,"r":36.5,"l":34.8,"o":34.3,"g":32.8,"b":31.2},
{"t":"2015-10-23T20:00","k":31.5,"r":33.5,"l":32.0,"o":31.7,"g":31.0,"b":30.0},
{"t":"2015-10-23T22:00","k":28.8,"r":30.5,"l":29.6,"o":29.4,"g":29.2,"b":28.3},
{"t":"2015-10-24T00:00","k":27.8,"r":29.5,"l":28.6,"o":28.4,"g":28.4,"b":27.7},
{"t":"2015-10-24T02:00","k":27.0,"r":28.8,"l":28.0,"o":27.8,"g":27.8,"b":27.2},
{"t":"2015-10-24T04:00","k":26.2,"r":28.0,"l":27.3,"o":27.1,"g":27.2,"b":26.7},
{"t":"2015-10-24T06:00","k":25.2,"r":27.0,"l":26.4,"o":26.2,"g":26.5,"b":26.0},
{"t":"2015-10-24T08:00","k":23.3,"r":25.0,"l":24.5,"o":24.4,"g":25.0,"b":24.6},
{"t":"2015-10-24T10:00","k":25.5,"r":25.8,"l":25.3,"o":25.2,"g":25.3,"b":24.9},
{"t":"2015-10-24T12:00","k":29.0,"r":28.0,"l":27.6,"o":27.3,"g":27.0,"b":26.3},
{"t":"2015-10-24T14:00","k":31.5,"r":30.5,"l":29.6,"o":29.3,"g":28.6,"b":27.3},
{"t":"2015-10-24T16:00","k":32.3,"r":31.5,"l":30.2,"o":29.9,"g":29.2,"b":27.7},
{"t":"2015-10-24T18:00","k":31.3,"r":31.4,"l":29.8,"o":29.5,"g":28.8,"b":27.5},
{"t":"2015-10-24T20:00","k":28.5,"r":29.6,"l":28.2,"o":28.0,"g":27.8,"b":26.8},
{"t":"2015-10-24T22:00","k":26.0,"r":27.6,"l":26.6,"o":26.5,"g":26.5,"b":25.8},
{"t":"2015-10-25T00:00","k":25.0,"r":26.2,"l":25.6,"o":25.5,"g":25.8,"b":25.0},
{"t":"2015-10-25T02:00","k":24.5,"r":25.4,"l":25.0,"o":24.9,"g":25.3,"b":24.6},
{"t":"2015-10-25T04:00","k":24.0,"r":24.9,"l":24.6,"o":24.5,"g":25.0,"b":24.3},
{"t":"2015-10-25T06:00","k":23.1,"r":24.3,"l":24.1,"o":24.0,"g":24.7,"b":24.0},
{"t":"2015-10-25T08:00","k":23.3,"r":24.1,"l":24.0,"o":23.9,"g":24.5,"b":23.8},
{"t":"2015-10-25T10:00","k":24.5,"r":24.6,"l":24.4,"o":24.3,"g":24.7,"b":24.0},
{"t":"2015-10-25T12:00","k":27.5,"r":26.8,"l":26.3,"o":26.1,"g":26.0,"b":25.4},
{"t":"2015-10-25T14:00","k":30.0,"r":28.8,"l":27.8,"o":27.6,"g":27.6,"b":26.4},
{"t":"2015-10-25T16:00","k":31.5,"r":30.0,"l":29.0,"o":28.8,"g":28.6,"b":27.0},
{"t":"2015-10-25T18:00","k":32.2,"r":31.3,"l":29.5,"o":29.2,"g":28.8,"b":27.2},
{"t":"2015-10-25T20:00","k":31.3,"r":30.5,"l":28.8,"o":28.5,"g":28.3,"b":27.0},
{"t":"2015-10-25T22:00","k":28.0,"r":27.8,"l":27.0,"o":26.8,"g":26.8,"b":26.0},
{"t":"2015-10-26T00:00","k":26.5,"r":27.0,"l":26.2,"o":26.0,"g":26.2,"b":25.4},
{"t":"2015-10-26T02:00","k":25.5,"r":26.2,"l":25.6,"o":25.5,"g":25.7,"b":25.0},
{"t":"2015-10-26T04:00","k":24.9,"r":25.6,"l":25.1,"o":25.0,"g":25.3,"b":24.7},
{"t":"2015-10-26T06:00","k":24.4,"r":25.2,"l":24.8,"o":24.7,"g":25.0,"b":24.5},
{"t":"2015-10-26T08:00","k":24.0,"r":25.0,"l":24.5,"o":24.4,"g":24.8,"b":24.3},
{"t":"2015-10-26T10:00","k":25.5,"r":25.4,"l":24.9,"o":24.8,"g":25.0,"b":24.4},
{"t":"2015-10-26T12:00","k":30.0,"r":29.0,"l":28.5,"o":28.2,"g":27.6,"b":26.3},
{"t":"2015-10-26T14:00","k":32.5,"r":31.8,"l":31.0,"o":30.6,"g":29.8,"b":27.8},
{"t":"2015-10-26T16:00","k":34.3,"r":33.8,"l":32.8,"o":32.4,"g":31.0,"b":28.6},
{"t":"2015-10-26T18:00","k":34.5,"r":34.6,"l":33.2,"o":32.8,"g":31.2,"b":28.8},
{"t":"2015-10-26T20:00","k":31.0,"r":32.0,"l":30.6,"o":30.3,"g":29.8,"b":28.0},
{"t":"2015-10-26T22:00","k":27.5,"r":28.8,"l":27.6,"o":27.4,"g":27.4,"b":26.6},
{"t":"2015-10-27T00:00","k":26.0,"r":27.3,"l":26.3,"o":26.1,"g":26.4,"b":25.7},
{"t":"2015-10-27T02:00","k":25.2,"r":26.5,"l":25.6,"o":25.5,"g":25.8,"b":25.2},
{"t":"2015-10-27T04:00","k":24.5,"r":26.0,"l":25.1,"o":25.0,"g":25.4,"b":24.8},
{"t":"2015-10-27T06:00","k":24.0,"r":25.6,"l":24.7,"o":24.6,"g":25.1,"b":24.5},
{"t":"2015-10-27T08:00","k":23.6,"r":25.3,"l":24.4,"o":24.3,"g":24.8,"b":24.2},
{"t":"2015-10-27T10:00","k":25.5,"r":25.8,"l":25.0,"o":24.9,"g":25.1,"b":24.5},
{"t":"2015-10-27T12:00","k":31.0,"r":30.5,"l":30.0,"o":29.6,"g":28.5,"b":27.0},
{"t":"2015-10-27T14:00","k":34.0,"r":33.5,"l":32.8,"o":32.4,"g":30.6,"b":28.6},
{"t":"2015-10-27T16:00","k":35.2,"r":35.5,"l":34.0,"o":33.6,"g":31.5,"b":29.6},
{"t":"2015-10-27T18:00","k":33.8,"r":35.0,"l":33.2,"o":32.8,"g":31.0,"b":29.3},
{"t":"2015-10-27T20:00","k":30.2,"r":32.0,"l":30.5,"o":30.2,"g":29.6,"b":28.2},
{"t":"2015-10-27T22:00","k":26.8,"r":28.8,"l":27.5,"o":27.3,"g":27.4,"b":26.5},
{"t":"2015-10-28T00:00","k":25.3,"r":27.0,"l":26.2,"o":26.0,"g":26.3,"b":25.6},
{"t":"2015-10-28T02:00","k":24.6,"r":26.3,"l":25.6,"o":25.4,"g":25.8,"b":25.1},
{"t":"2015-10-28T04:00","k":24.3,"r":26.0,"l":25.3,"o":25.1,"g":25.6,"b":24.9},
{"t":"2015-10-28T06:00","k":24.2,"r":26.2,"l":25.5,"o":25.3,"g":25.7,"b":25.0},
{"t":"2015-10-28T08:00","k":24.6,"r":26.5,"l":25.8,"o":25.6,"g":25.9,"b":25.2},
{"t":"2015-10-28T10:00","k":26.0,"r":27.0,"l":26.3,"o":26.1,"g":26.3,"b":25.6},
{"t":"2015-10-28T12:00","k":28.5,"r":28.8,"l":28.0,"o":27.8,"g":27.6,"b":26.6},
{"t":"2015-10-28T14:00","k":30.0,"r":30.5,"l":29.5,"o":29.2,"g":28.8,"b":27.6},
{"t":"2015-10-28T16:00","k":31.0,"r":31.6,"l":30.0,"o":29.7,"g":29.6,"b":28.2},
{"t":"2015-10-28T18:00","k":30.3,"r":31.2,"l":29.6,"o":29.3,"g":29.3,"b":28.0},
{"t":"2015-10-28T20:00","k":27.8,"r":29.0,"l":27.8,"o":27.6,"g":27.8,"b":27.0},
{"t":"2015-10-28T22:00","k":25.3,"r":26.8,"l":26.0,"o":25.8,"g":26.0,"b":25.4},
{"t":"2015-10-29T00:00","k":24.0,"r":26.2,"l":25.4,"o":25.2,"g":25.5,"b":24.9}],
"wC":[
{"t":"2016-02-18T00:00","r":160,"rl":110,"rh":230,"l":120,"o":45,"g":55,"b":20},
{"t":"2016-02-18T03:00","r":145,"rl":110,"rh":200,"l":115,"o":45,"g":55,"b":20},
{"t":"2016-02-18T06:00","r":130,"rl":100,"rh":170,"l":110,"o":45,"g":55,"b":20},
{"t":"2016-02-18T07:30","g":55,"b":20,"bl":15,"bh":25},
{"t":"2016-02-18T08:00","r":130,"rl":100,"rh":165,"g":75,"b":150,"bl":110,"bh":210},
{"t":"2016-02-18T09:00","r":110,"rl":85,"rh":140,"l":105,"o":45,"g":75,"b":125,"bl":90,"bh":170},
{"t":"2016-02-18T12:00","r":105,"rl":80,"rh":135,"l":100,"o":45,"g":70,"b":95,"bl":70,"bh":130},
{"t":"2016-02-18T15:00","r":110,"rl":85,"rh":140,"l":90,"o":40,"g":65,"b":78,"bl":55,"bh":105},
{"t":"2016-02-18T18:00","r":90,"rl":65,"rh":120,"l":80,"o":40,"g":62,"b":65,"bl":45,"bh":90},
{"t":"2016-02-18T21:00","r":80,"rl":55,"rh":110,"l":70,"o":40,"g":60,"b":55,"bl":40,"bh":75},
{"t":"2016-02-19T00:00","r":95,"rl":65,"rh":130,"l":60,"o":35,"g":58,"b":45,"bl":32,"bh":62},
{"t":"2016-02-19T01:00","g":60,"b":45,"bl":32,"bh":62},
{"t":"2016-02-19T01:30","r":110,"rl":80,"rh":150,"g":100,"b":130,"bl":90,"bh":170},
{"t":"2016-02-19T03:00","r":115,"rl":80,"rh":150,"l":80,"o":50,"g":135,"b":410,"bl":310,"bh":560},
{"t":"2016-02-19T04:30","g":120,"b":320,"bl":240,"bh":440},
{"t":"2016-02-19T06:00","r":95,"rl":70,"rh":125,"l":75,"o":45,"g":110,"b":250,"bl":180,"bh":340},
{"t":"2016-02-19T09:00","r":90,"rl":65,"rh":120,"l":70,"o":45,"g":100,"b":170,"bl":120,"bh":240},
{"t":"2016-02-19T12:00","r":90,"rl":65,"rh":120,"l":70,"o":40,"g":95,"b":135,"bl":95,"bh":190},
{"t":"2016-02-19T15:00","r":95,"rl":70,"rh":125,"l":65,"o":40,"g":90,"b":115,"bl":80,"bh":165},
{"t":"2016-02-19T18:00","r":90,"rl":65,"rh":120,"l":60,"o":40,"g":85,"b":105,"bl":72,"bh":150},
{"t":"2016-02-19T21:00","r":145,"rl":110,"rh":185,"l":60,"o":40,"g":80,"b":95,"bl":65,"bh":135},
{"t":"2016-02-20T00:00","r":140,"rl":105,"rh":180,"l":55,"o":40,"g":78,"b":88,"bl":60,"bh":125},
{"t":"2016-02-20T03:00","r":135,"rl":100,"rh":175,"l":55,"o":40,"g":75,"b":80,"bl":55,"bh":115},
{"t":"2016-02-20T06:00","r":130,"rl":100,"rh":170,"l":55,"o":38,"g":72,"b":75,"bl":50,"bh":105},
{"t":"2016-02-20T09:00","r":130,"rl":100,"rh":165,"l":50,"o":38,"g":68,"b":70,"bl":48,"bh":98},
{"t":"2016-02-20T12:00","r":110,"rl":85,"rh":140,"l":50,"o":35,"g":65,"b":65,"bl":45,"bh":90},
{"t":"2016-02-20T15:00","r":80,"rl":60,"rh":105,"l":60,"o":38,"g":62,"b":60,"bl":42,"bh":82},
{"t":"2016-02-20T18:00","r":110,"rl":85,"rh":140,"l":80,"o":40,"g":60,"b":57,"bl":40,"bh":78},
{"t":"2016-02-20T21:00","r":125,"rl":100,"rh":155,"l":120,"o":45,"g":58,"b":50,"bl":35,"bh":70},
{"t":"2016-02-21T00:00","r":130,"rl":105,"rh":160,"l":160,"o":50,"g":56,"b":47,"bl":33,"bh":65},
{"t":"2016-02-21T03:00","r":130,"rl":105,"rh":160,"l":165,"o":50,"g":54,"b":44,"bl":30,"bh":60},
{"t":"2016-02-21T06:00","r":125,"rl":100,"rh":155,"l":160,"o":45,"g":52,"b":40,"bl":28,"bh":55},
{"t":"2016-02-21T09:00","r":110,"rl":90,"rh":135,"l":140,"o":45,"g":50,"b":38,"bl":27,"bh":52},
{"t":"2016-02-21T12:00","r":110,"rl":90,"rh":135,"l":110,"o":40,"g":48,"b":35,"bl":25,"bh":48},
{"t":"2016-02-21T15:00","r":90,"rl":72,"rh":112,"l":80,"o":38,"g":47,"b":30,"bl":22,"bh":40},
{"t":"2016-02-21T18:00","r":95,"rl":75,"rh":118,"l":70,"o":35,"g":46,"b":22,"bl":16,"bh":30},
{"t":"2016-02-21T21:00","r":100,"rl":80,"rh":125,"l":60,"o":35,"g":46,"b":20,"bl":15,"bh":27},
{"t":"2016-02-22T00:00","r":110,"rl":90,"rh":135,"l":50,"o":35,"g":45,"b":19,"bl":14,"bh":25},
{"t":"2016-02-22T03:00","r":125,"rl":105,"rh":150,"l":45,"o":32,"g":45,"b":18,"bl":13,"bh":23},
{"t":"2016-02-22T06:00","r":125,"rl":105,"rh":150,"l":40,"o":32,"g":45,"b":18,"bl":13,"bh":23},
{"t":"2016-02-22T09:00","r":125,"rl":105,"rh":150,"l":40,"o":30,"g":45,"b":18,"bl":13,"bh":23},
{"t":"2016-02-22T12:00","r":120,"rl":100,"rh":145,"l":40,"o":30,"g":45,"b":18,"bl":13,"bh":23},
{"t":"2016-02-22T15:00","r":110,"rl":90,"rh":135,"l":40,"o":30,"g":45,"b":18,"bl":13,"bh":23},
{"t":"2016-02-22T18:00","r":110,"rl":90,"rh":135,"l":40,"o":30,"g":45,"b":18,"bl":13,"bh":23},
{"t":"2016-02-22T21:00","r":105,"rl":85,"rh":130,"l":40,"o":30,"g":45,"b":18,"bl":13,"bh":23},
{"t":"2016-02-23T00:00","r":90,"rl":72,"rh":112,"l":40,"o":30,"g":44,"b":18,"bl":13,"bh":23},
{"t":"2016-02-23T03:00","r":110,"rl":90,"rh":135,"l":40,"o":30,"g":44,"b":18,"bl":13,"bh":23},
{"t":"2016-02-23T06:00","r":115,"rl":95,"rh":140,"l":42,"o":30,"g":44,"b":18,"bl":13,"bh":23},
{"t":"2016-02-23T09:00","r":125,"rl":105,"rh":150,"l":45,"o":30,"g":45,"b":18,"bl":13,"bh":23},
{"t":"2016-02-23T09:40","g":45,"b":18,"bl":13,"bh":23},
{"t":"2016-02-23T10:00","r":110,"rl":85,"rh":135,"l":55,"g":80,"b":280,"bl":210,"bh":340},
{"t":"2016-02-23T11:30","r":75,"rl":60,"rh":95,"l":60,"o":40,"g":130,"b":235,"bl":180,"bh":300},
{"t":"2016-02-23T13:30","r":70,"rl":55,"rh":90,"l":70,"o":45,"g":200,"b":355,"bl":270,"bh":420},
{"t":"2016-02-23T15:00","r":70,"rl":55,"rh":90,"l":70,"o":45,"g":160,"b":320,"bl":245,"bh":400},
{"t":"2016-02-23T18:00","r":72,"rl":57,"rh":92,"l":70,"o":45,"g":95,"b":240,"bl":180,"bh":310},
{"t":"2016-02-23T21:00","r":85,"rl":68,"rh":105,"l":65,"o":45,"g":78,"b":180,"bl":135,"bh":240},
{"t":"2016-02-24T00:00","r":90,"rl":72,"rh":110,"l":65,"o":40,"g":75,"b":150,"bl":110,"bh":200},
{"t":"2016-02-24T03:00","r":90,"rl":72,"rh":110,"l":60,"o":40,"g":72,"b":125,"bl":92,"bh":170},
{"t":"2016-02-24T06:00","r":88,"rl":70,"rh":108,"l":60,"o":40,"g":70,"b":110,"bl":80,"bh":150},
{"t":"2016-02-24T09:00","r":85,"rl":68,"rh":105,"l":60,"o":40,"g":70,"b":98,"bl":72,"bh":135},
{"t":"2016-02-24T11:30","r":80,"rl":64,"rh":100,"l":60,"o":40,"g":70,"b":90,"bl":66,"bh":125},
{"t":"2016-02-24T12:00","r":85,"rl":68,"rh":105,"l":65,"o":45,"g":100,"b":265,"bl":200,"bh":350},
{"t":"2016-02-24T15:00","r":85,"rl":68,"rh":105,"l":65,"o":45,"g":80,"b":170,"bl":125,"bh":230},
{"t":"2016-02-24T18:00","r":85,"rl":68,"rh":105,"l":65,"o":45,"g":85,"b":135,"bl":100,"bh":185},
{"t":"2016-02-24T20:00","r":95,"rl":76,"rh":115,"g":90,"b":115,"bl":85,"bh":160},
{"t":"2016-02-24T20:30","r":95,"rl":76,"rh":115,"l":70,"o":45,"g":90,"b":200,"bl":150,"bh":260},
{"t":"2016-02-24T21:00","g":90,"b":175,"bl":130,"bh":230},
{"t":"2016-02-25T00:00","r":90,"rl":72,"rh":110,"l":75,"o":45,"g":88,"b":140,"bl":100,"bh":195},
{"t":"2016-02-25T03:00","r":88,"rl":70,"rh":108,"l":75,"o":45,"g":85,"b":125,"bl":90,"bh":175},
{"t":"2016-02-25T06:00","r":85,"rl":68,"rh":105,"l":70,"o":45,"g":82,"b":110,"bl":80,"bh":160},
{"t":"2016-02-25T09:00","r":85,"rl":68,"rh":105,"l":70,"o":45,"g":78,"b":105,"bl":75,"bh":155},
{"t":"2016-02-25T12:00","r":80,"rl":64,"rh":100,"l":80,"o":45,"g":75,"b":100,"bl":70,"bh":150},
{"t":"2016-02-25T15:00","r":80,"rl":64,"rh":100,"l":90,"o":45,"g":88,"b":120,"bl":85,"bh":170},
{"t":"2016-02-25T18:00","r":85,"rl":68,"rh":105,"l":100,"o":45,"g":80,"b":100,"bl":70,"bh":150},
{"t":"2016-02-25T21:00","r":90,"rl":72,"rh":110,"l":110,"o":45,"g":70,"b":80,"bl":55,"bh":120},
{"t":"2016-02-26T00:00","r":95,"rl":76,"rh":115,"l":115,"o":45,"g":65,"b":70,"bl":50,"bh":110}],
"dC":[
{"t":"2015-10-21T00:00","r":100,"rl":60,"rh":150,"l":90,"o":28,"g":50,"b":10},
{"t":"2015-10-21T03:00","r":140,"rl":85,"rh":210,"l":105,"o":30,"g":55,"b":10},
{"t":"2015-10-21T06:00","r":158,"rl":95,"rh":230,"l":110,"o":30,"g":62,"b":10},
{"t":"2015-10-21T09:00","r":150,"rl":90,"rh":225,"l":110,"o":30,"g":72,"b":10},
{"t":"2015-10-21T12:00","r":120,"rl":75,"rh":180,"l":100,"o":28,"g":75,"b":10},
{"t":"2015-10-21T15:00","r":95,"rl":60,"rh":140,"l":85,"o":28,"g":55,"b":9},
{"t":"2015-10-21T18:00","r":78,"rl":50,"rh":115,"l":75,"o":26,"g":35,"b":9},
{"t":"2015-10-21T21:00","r":95,"rl":60,"rh":140,"l":85,"o":26,"g":30,"b":9},
{"t":"2015-10-22T00:00","r":115,"rl":70,"rh":170,"l":95,"o":28,"g":35,"b":10},
{"t":"2015-10-22T03:00","r":130,"rl":80,"rh":195,"l":105,"o":30,"g":40,"b":10},
{"t":"2015-10-22T06:00","r":145,"rl":90,"rh":215,"l":110,"o":30,"g":55,"b":10},
{"t":"2015-10-22T09:00","r":120,"rl":75,"rh":180,"l":100,"o":30,"g":65,"b":10},
{"t":"2015-10-22T12:00","r":95,"rl":60,"rh":140,"l":85,"o":28,"g":70,"b":9},
{"t":"2015-10-22T15:00","r":80,"rl":50,"rh":120,"l":75,"o":27,"g":60,"b":9},
{"t":"2015-10-22T18:00","r":90,"rl":55,"rh":135,"l":80,"o":27,"g":45,"b":9},
{"t":"2015-10-22T21:00","r":95,"rl":60,"rh":140,"l":85,"o":27,"g":38,"b":9},
{"t":"2015-10-23T00:00","r":100,"rl":62,"rh":150,"l":90,"o":28,"g":35,"b":9},
{"t":"2015-10-23T03:00","r":90,"rl":55,"rh":135,"l":85,"o":28,"g":40,"b":9},
{"t":"2015-10-23T06:00","r":100,"rl":62,"rh":150,"l":90,"o":28,"g":45,"b":9},
{"t":"2015-10-23T09:00","r":105,"rl":65,"rh":155,"l":95,"o":28,"g":55,"b":9},
{"t":"2015-10-23T12:00","r":95,"rl":60,"rh":140,"l":90,"o":27,"g":60,"b":9},
{"t":"2015-10-23T15:00","r":105,"rl":65,"rh":155,"l":90,"o":27,"g":45,"b":9},
{"t":"2015-10-23T18:00","r":75,"rl":48,"rh":110,"l":70,"o":26,"g":40,"b":9},
{"t":"2015-10-23T21:00","r":95,"rl":60,"rh":140,"l":85,"o":27,"g":45,"b":9},
{"t":"2015-10-24T00:00","r":100,"rl":62,"rh":150,"l":90,"o":28,"g":50,"b":9},
{"t":"2015-10-24T03:00","r":85,"rl":52,"rh":125,"l":80,"o":28,"g":40,"b":9},
{"t":"2015-10-24T06:00","r":90,"rl":55,"rh":135,"l":85,"o":28,"g":35,"b":9},
{"t":"2015-10-24T07:30","r":95,"rl":58,"rh":140,"l":85,"o":28,"g":35,"b":9},
{"t":"2015-10-24T08:45","r":390,"rl":200,"rh":610,"l":120,"o":35,"g":70,"b":105},
{"t":"2015-10-24T10:00","r":250,"rl":140,"rh":400,"l":110,"o":32,"g":55,"b":40},
{"t":"2015-10-24T11:30","r":140,"rl":85,"rh":210,"l":100,"o":30,"g":45,"b":22},
{"t":"2015-10-24T15:00","r":100,"rl":62,"rh":150,"l":95,"o":28,"g":50,"b":15},
{"t":"2015-10-24T18:00","r":120,"rl":75,"rh":180,"l":100,"o":28,"g":60,"b":14},
{"t":"2015-10-24T21:00","r":135,"rl":85,"rh":200,"l":105,"o":28,"g":70,"b":13},
{"t":"2015-10-25T00:00","r":140,"rl":85,"rh":205,"l":110,"o":29,"g":78,"b":14},
{"t":"2015-10-25T03:00","r":150,"rl":92,"rh":220,"l":115,"o":30,"g":85,"b":20},
{"t":"2015-10-25T06:00","r":155,"rl":95,"rh":225,"l":115,"o":30,"g":82,"b":16},
{"t":"2015-10-25T09:00","r":130,"rl":80,"rh":195,"l":105,"o":29,"g":75,"b":13},
{"t":"2015-10-25T12:00","r":100,"rl":62,"rh":150,"l":90,"o":28,"g":60,"b":12},
{"t":"2015-10-25T15:00","r":90,"rl":55,"rh":135,"l":80,"o":27,"g":40,"b":11},
{"t":"2015-10-25T18:00","r":105,"rl":65,"rh":155,"l":90,"o":27,"g":35,"b":11},
{"t":"2015-10-25T21:00","r":100,"rl":62,"rh":150,"l":90,"o":27,"g":30,"b":11},
{"t":"2015-10-26T00:00","r":80,"rl":50,"rh":120,"l":75,"o":27,"g":30,"b":11},
{"t":"2015-10-26T03:00","r":110,"rl":68,"rh":165,"l":95,"o":28,"g":40,"b":11},
{"t":"2015-10-26T06:00","r":145,"rl":90,"rh":215,"l":110,"o":29,"g":55,"b":11},
{"t":"2015-10-26T09:00","r":120,"rl":75,"rh":180,"l":100,"o":29,"g":72,"b":11},
{"t":"2015-10-26T12:00","r":90,"rl":55,"rh":135,"l":85,"o":28,"g":75,"b":11},
{"t":"2015-10-26T15:00","r":95,"rl":60,"rh":140,"l":85,"o":28,"g":55,"b":10},
{"t":"2015-10-26T18:00","r":100,"rl":62,"rh":150,"l":90,"o":28,"g":45,"b":10},
{"t":"2015-10-26T21:00","r":105,"rl":65,"rh":155,"l":90,"o":28,"g":40,"b":10},
{"t":"2015-10-27T00:00","r":110,"rl":68,"rh":165,"l":95,"o":28,"g":40,"b":10},
{"t":"2015-10-27T03:00","r":120,"rl":75,"rh":180,"l":100,"o":29,"g":45,"b":10},
{"t":"2015-10-27T06:00","r":140,"rl":85,"rh":210,"l":110,"o":29,"g":60,"b":10},
{"t":"2015-10-27T09:00","r":110,"rl":68,"rh":165,"l":95,"o":29,"g":75,"b":10},
{"t":"2015-10-27T12:00","r":85,"rl":52,"rh":125,"l":80,"o":28,"g":60,"b":10},
{"t":"2015-10-27T15:00","r":80,"rl":50,"rh":120,"l":75,"o":27,"g":40,"b":10},
{"t":"2015-10-27T18:00","r":100,"rl":62,"rh":150,"l":90,"o":27,"g":30,"b":10},
{"t":"2015-10-27T21:00","r":95,"rl":60,"rh":140,"l":88,"o":27,"g":35,"b":10},
{"t":"2015-10-28T00:00","r":90,"rl":55,"rh":135,"l":85,"o":27,"g":45,"b":10},
{"t":"2015-10-28T03:00","r":100,"rl":62,"rh":150,"l":90,"o":28,"g":50,"b":10},
{"t":"2015-10-28T06:00","r":110,"rl":68,"rh":165,"l":95,"o":28,"g":55,"b":10},
{"t":"2015-10-28T09:00","r":120,"rl":75,"rh":180,"l":100,"o":28,"g":62,"b":10},
{"t":"2015-10-28T12:00","r":100,"rl":62,"rh":150,"l":92,"o":28,"g":60,"b":10},
{"t":"2015-10-28T15:00","r":105,"rl":65,"rh":155,"l":95,"o":28,"g":50,"b":10},
{"t":"2015-10-28T18:00","r":110,"rl":68,"rh":165,"l":98,"o":28,"g":55,"b":10},
{"t":"2015-10-28T21:00","r":115,"rl":70,"rh":170,"l":100,"o":28,"g":60,"b":10},
{"t":"2015-10-29T00:00","r":120,"rl":75,"rh":180,"l":100,"o":28,"g":62,"b":10}],
"wD":[
{"t":"2016-02-18T00:00","h":100},{"t":"2016-02-18T11:20","h":99},{"t":"2016-02-18T12:56","h":90},{"t":"2016-02-18T14:33","h":82},{"t":"2016-02-18T16:10","h":78},{"t":"2016-02-18T17:47","h":73},{"t":"2016-02-18T19:24","h":68},{"t":"2016-02-18T21:00","h":67},{"t":"2016-02-18T22:37","h":72},{"t":"2016-02-19T00:14","h":85},{"t":"2016-02-19T01:32","h":100},
{"t":"2016-02-19T13:58","h":100},{"t":"2016-02-19T15:36","h":95},{"t":"2016-02-19T17:12","h":91},{"t":"2016-02-19T18:50","h":87},{"t":"2016-02-19T20:27","h":83},{"t":"2016-02-19T22:03","h":88},{"t":"2016-02-19T23:41","h":97},{"t":"2016-02-20T00:49","h":100},
{"t":"2016-02-20T13:25","h":100},{"t":"2016-02-20T15:01","h":94},{"t":"2016-02-20T17:27","h":87},{"t":"2016-02-20T19:52","h":80},{"t":"2016-02-20T21:10","h":80},{"t":"2016-02-20T22:47","h":90},{"t":"2016-02-21T00:43","h":97},{"t":"2016-02-21T03:58","h":99},{"t":"2016-02-21T08:49","h":98},{"t":"2016-02-21T12:50","h":98},
{"t":"2016-02-21T15:16","h":92},{"t":"2016-02-21T16:53","h":82},{"t":"2016-02-21T18:30","h":66},{"t":"2016-02-21T20:07","h":68},{"t":"2016-02-21T23:21","h":76},{"t":"2016-02-22T04:12","h":84},{"t":"2016-02-22T09:03","h":88},{"t":"2016-02-22T12:17","h":93},{"t":"2016-02-22T14:43","h":98},
{"t":"2016-02-22T16:19","h":93},{"t":"2016-02-22T17:56","h":84},{"t":"2016-02-22T20:02","h":75},{"t":"2016-02-22T21:59","h":82},{"t":"2016-02-23T00:24","h":95},{"t":"2016-02-23T02:49","h":98},{"t":"2016-02-23T07:40","h":99},{"t":"2016-02-23T14:57","h":100},
{"t":"2016-02-23T17:22","h":96},{"t":"2016-02-23T19:48","h":91},{"t":"2016-02-23T22:13","h":100},{"t":"2016-02-24T12:46","h":100},{"t":"2016-02-24T14:22","h":95},{"t":"2016-02-24T16:00","h":86},{"t":"2016-02-24T17:37","h":77},{"t":"2016-02-24T19:14","h":83},{"t":"2016-02-24T20:51","h":100},
{"t":"2016-02-25T13:49","h":100},{"t":"2016-02-25T15:26","h":94},{"t":"2016-02-25T17:02","h":84},{"t":"2016-02-25T19:28","h":71},{"t":"2016-02-25T21:05","h":74},{"t":"2016-02-25T22:42","h":80},{"t":"2016-02-26T00:00","h":91}],
"dD":[
{"t":"2015-10-21T00:00","h":92},{"t":"2015-10-21T02:50","h":100},{"t":"2015-10-21T10:20","h":100},{"t":"2015-10-21T12:13","h":92},{"t":"2015-10-21T14:05","h":82},{"t":"2015-10-21T16:00","h":70},{"t":"2015-10-21T17:50","h":62},{"t":"2015-10-21T19:44","h":64},{"t":"2015-10-21T21:36","h":75},{"t":"2015-10-21T23:29","h":90},
{"t":"2015-10-22T00:25","h":85},{"t":"2015-10-22T01:22","h":73},{"t":"2015-10-22T03:14","h":90},{"t":"2015-10-22T05:07","h":95},{"t":"2015-10-22T08:52","h":97},{"t":"2015-10-22T10:22","h":100},{"t":"2015-10-22T11:42","h":95},{"t":"2015-10-22T14:31","h":80},{"t":"2015-10-22T16:23","h":60},{"t":"2015-10-22T18:16","h":47},{"t":"2015-10-22T20:09","h":55},{"t":"2015-10-22T23:54","h":65},
{"t":"2015-10-23T03:40","h":72},{"t":"2015-10-23T07:25","h":87},{"t":"2015-10-23T09:18","h":90},{"t":"2015-10-23T11:11","h":80},{"t":"2015-10-23T14:56","h":60},{"t":"2015-10-23T18:41","h":48},{"t":"2015-10-23T20:34","h":50},{"t":"2015-10-23T22:27","h":65},
{"t":"2015-10-24T02:12","h":70},{"t":"2015-10-24T05:58","h":82},{"t":"2015-10-24T08:47","h":100},{"t":"2015-10-24T10:40","h":100},{"t":"2015-10-24T12:32","h":90},{"t":"2015-10-24T15:21","h":78},{"t":"2015-10-24T19:07","h":62},{"t":"2015-10-24T21:00","h":63},{"t":"2015-10-24T22:53","h":72},
{"t":"2015-10-25T00:45","h":75},{"t":"2015-10-25T02:38","h":80},{"t":"2015-10-25T04:31","h":98},{"t":"2015-10-25T10:09","h":100},{"t":"2015-10-25T12:02","h":95},{"t":"2015-10-25T15:47","h":75},{"t":"2015-10-25T19:33","h":66},{"t":"2015-10-25T23:18","h":70},
{"t":"2015-10-26T03:03","h":75},{"t":"2015-10-26T06:48","h":82},{"t":"2015-10-26T09:37","h":100},{"t":"2015-10-26T11:30","h":90},{"t":"2015-10-26T14:19","h":75},{"t":"2015-10-26T18:05","h":52},{"t":"2015-10-26T19:58","h":55},{"t":"2015-10-26T21:50","h":62},
{"t":"2015-10-27T01:36","h":75},{"t":"2015-10-27T07:14","h":92},{"t":"2015-10-27T09:07","h":86},{"t":"2015-10-27T12:52","h":65},{"t":"2015-10-27T16:38","h":50},{"t":"2015-10-27T18:31","h":48},{"t":"2015-10-27T20:23","h":55},{"t":"2015-10-27T22:16","h":65},
{"t":"2015-10-28T01:05","h":80},{"t":"2015-10-28T05:47","h":95},{"t":"2015-10-28T08:36","h":98},{"t":"2015-10-28T11:25","h":90},{"t":"2015-10-28T15:10","h":75},{"t":"2015-10-28T17:03","h":73},{"t":"2015-10-28T19:52","h":90},{"t":"2015-10-28T21:45","h":99},{"t":"2015-10-29T00:00","h":100}],
"wR":[{"s":"2016-02-18T07:40","e":"2016-02-18T08:20","v":13},{"s":"2016-02-18T08:20","e":"2016-02-18T09:00","v":6},{"s":"2016-02-19T01:00","e":"2016-02-19T01:40","v":5},{"s":"2016-02-19T01:40","e":"2016-02-19T02:20","v":14},{"s":"2016-02-19T02:20","e":"2016-02-19T02:50","v":6},{"s":"2016-02-19T02:50","e":"2016-02-19T03:30","v":14},{"s":"2016-02-19T03:30","e":"2016-02-19T04:10","v":5},{"s":"2016-02-23T09:10","e":"2016-02-23T09:50","v":17},{"s":"2016-02-23T09:50","e":"2016-02-23T10:30","v":40},{"s":"2016-02-23T10:30","e":"2016-02-23T11:10","v":11},{"s":"2016-02-23T12:40","e":"2016-02-23T14:00","v":3},{"s":"2016-02-24T11:50","e":"2016-02-24T12:30","v":11},{"s":"2016-02-24T12:30","e":"2016-02-24T13:00","v":5},{"s":"2016-02-24T20:30","e":"2016-02-24T21:10","v":14},{"s":"2016-02-25T05:00","e":"2016-02-25T05:40","v":4}],
"dR":[{"s":"2015-10-24T08:20","e":"2015-10-24T09:00","v":9},{"s":"2015-10-24T09:00","e":"2015-10-24T09:30","v":5},{"s":"2015-10-25T06:00","e":"2015-10-25T06:40","v":3}],
"wF":[{"s":"2016-02-19T06:10","e":"2016-02-19T07:30"},{"s":"2016-02-23T14:50","e":"2016-02-23T17:00"},{"s":"2016-02-24T07:50","e":"2016-02-24T12:20"},{"s":"2016-02-25T00:00","e":"2016-02-25T01:20"},{"s":"2016-02-25T03:00","e":"2016-02-25T04:10"},{"s":"2016-02-25T10:50","e":"2016-02-25T12:10"}]
},
"hconcat":[
{"vconcat":[
 {"width":607,"height":227,
  "layer":[
   {"data":{"name":"wN"},"mark":{"type":"rect","color":"#d9d9d9"},"encoding":{"x":{"field":"s","type":"temporal","scale":{"domain":[{"year":2016,"month":2,"date":18},{"year":2016,"month":2,"date":26}]},"axis":{"orient":"bottom","labels":false,"ticks":false,"title":null,"grid":false,"domainColor":"#9a9a9a","domainWidth":2.5,"zindex":1}},"x2":{"field":"e"}}},
   {"data":{"name":"wA"},"transform":[{"fold":["b","g","o","l","r"],"as":["ser","v"]}],"mark":{"type":"line","strokeWidth":2.5,"clip":true},
    "encoding":{"x":{"field":"t","type":"temporal","scale":{"domain":[{"year":2016,"month":2,"date":18},{"year":2016,"month":2,"date":26}]},"axis":null},
     "y":{"field":"v","type":"quantitative","scale":{"domain":[-23.6,741.5]},"axis":{"orient":"left","values":[0,100,200,300,400,500,600,700],"labelExpr":"datum.value % 200 === 0 ? datum.label : ''","tickSize":{"condition":{"test":"datum.value % 200 === 0","value":19},"value":10},"labelPadding":8,"title":["PARavg","[µmol m⁻² s⁻¹ PPFD]"],"titleX":-130,"titleBaseline":"bottom","titleLineHeight":31,"grid":true,"gridDash":[2,3],"gridColor":"#888","gridOpacity":{"condition":{"test":"datum.value % 200 === 0 && datum.value > 0","value":1},"value":0},"domainWidth":1.5,"tickWidth":1.5,"zindex":1}},
     "stroke":{"field":"ser","type":"nominal","scale":{"domain":["k","r","l","o","g","b"],"range":["#000000","#ec1c24","#84e01c","#f0b43c","#1a9a2a","#0c22e0"]},"legend":null}}},
   {"data":{"name":"wA"},"mark":{"type":"line","color":"#000","strokeWidth":3,"clip":true},
    "encoding":{"x":{"field":"t","type":"temporal","scale":{"domain":[{"year":2016,"month":2,"date":18},{"year":2016,"month":2,"date":26}]},"axis":{"orient":"top","offset":4,"values":[{"year":2016,"month":2,"date":18},{"year":2016,"month":2,"date":19},{"year":2016,"month":2,"date":20},{"year":2016,"month":2,"date":21},{"year":2016,"month":2,"date":22},{"year":2016,"month":2,"date":23},{"year":2016,"month":2,"date":24},{"year":2016,"month":2,"date":25},{"year":2016,"month":2,"date":26}],"labels":false,"title":null,"grid":false,"tickSize":{"condition":{"test":"date(datum.value) % 2 === 1","value":18},"value":13},"domainWidth":1.5,"tickWidth":1.5,"zindex":1}},
     "y":{"field":"k","type":"quantitative","scale":{"domain":[-101,3178]},"axis":{"orient":"right","values":[0,500,1000,1500,2000,2500,3000],"format":"d","labelExpr":"datum.value % 1000 === 0 ? datum.label : ''","tickSize":{"condition":{"test":"datum.value % 1000 === 0","value":19},"value":10},"labelPadding":8,"title":["above canopy PARavg","[µmol m⁻² s⁻¹ PPFD]"],"titleX":137,"titleBaseline":"bottom","titleLineHeight":34,"grid":false,"domainWidth":1.5,"tickWidth":1.5,"zindex":1}}}},
   {"data":{"values":[{}]},"mark":{"type":"text","text":"(A)","align":"left","baseline":"top","dx":2},"encoding":{"x":{"datum":{"year":2016,"month":2,"date":18},"type":"temporal","scale":{"domain":[{"year":2016,"month":2,"date":18},{"year":2016,"month":2,"date":26}]},"axis":null},"y":{"datum":674,"type":"quantitative","scale":{"domain":[-23.6,741.5]},"axis":null}}}
  ],
  "resolve":{"scale":{"y":"independent"},"axis":{"x":"independent","y":"independent"}}},
 {"width":607,"height":230,
  "layer":[
   {"data":{"name":"wN"},"mark":{"type":"rect","color":"#d9d9d9"},"encoding":{"x":{"field":"s","type":"temporal","scale":{"domain":[{"year":2016,"month":2,"date":18},{"year":2016,"month":2,"date":26}]},"axis":{"orient":"bottom","labels":false,"ticks":false,"title":null,"grid":false,"domainColor":"#9a9a9a","domainWidth":2.5,"zindex":1}},"x2":{"field":"e"}}},
   {"data":{"name":"wB"},"transform":[{"fold":["b","g","o","l","k","r"],"as":["ser","v"]}],"mark":{"type":"line","strokeWidth":2.6,"clip":true},
    "encoding":{"x":{"field":"t","type":"temporal","scale":{"domain":[{"year":2016,"month":2,"date":18},{"year":2016,"month":2,"date":26}]},"axis":null},
     "y":{"field":"v","type":"quantitative","scale":{"domain":[19.67,38.83]},"axis":{"orient":"left","values":[20,21,22,23,24,25,26,27,28,29,30,31,32,33,34,35,36,37],"labelExpr":"datum.value % 5 === 0 ? datum.label : ''","tickSize":{"condition":{"test":"datum.value % 5 === 0","value":19},"value":10},"labelPadding":8,"title":["Temperature","[°C]"],"titleX":-130,"titleBaseline":"bottom","titleLineHeight":22,"grid":true,"gridDash":[2,3],"gridColor":"#888","gridOpacity":{"condition":{"test":"datum.value % 5 === 0","value":1},"value":0},"domainWidth":1.5,"tickWidth":1.5,"zindex":1}},
     "stroke":{"field":"ser","type":"nominal","scale":{"domain":["k","r","l","o","g","b"],"range":["#000000","#ec1c24","#84e01c","#f0b43c","#1a9a2a","#0c22e0"]},"legend":null}}},
   {"data":{"values":[{}]},"mark":{"type":"rule","opacity":0},"encoding":{"y":{"datum":25,"type":"quantitative","scale":{"domain":[19.67,38.83]},"axis":{"orient":"right","values":[20,21,22,23,24,25,26,27,28,29,30,31,32,33,34,35,36,37],"labels":false,"title":null,"grid":false,"tickSize":{"condition":{"test":"datum.value % 5 === 0","value":19},"value":10},"domainWidth":1.5,"tickWidth":1.5,"zindex":1}}}},
   {"data":{"values":[{}]},"mark":{"type":"text","text":"(B)","align":"left","baseline":"top","dx":2},"encoding":{"x":{"datum":{"year":2016,"month":2,"date":18},"type":"temporal","scale":{"domain":[{"year":2016,"month":2,"date":18},{"year":2016,"month":2,"date":26}]},"axis":null},"y":{"datum":37.2,"type":"quantitative","scale":{"domain":[19.67,38.83]},"axis":null}}}
  ],
  "resolve":{"axis":{"x":"independent","y":"independent"}}},
 {"width":607,"height":238,
  "layer":[
   {"data":{"name":"wN"},"mark":{"type":"rect","color":"#d9d9d9"},"encoding":{"x":{"field":"s","type":"temporal","scale":{"domain":[{"year":2016,"month":2,"date":18},{"year":2016,"month":2,"date":26}]},"axis":{"orient":"bottom","labels":false,"ticks":false,"title":null,"grid":false,"domainColor":"#9a9a9a","domainWidth":2.5,"zindex":1}},"x2":{"field":"e"}}},
   {"data":{"name":"wC"},"transform":[{"filter":"isValid(datum.rl)"}],"mark":{"type":"area","color":"#f07878","opacity":0.4,"clip":true},"encoding":{"x":{"field":"t","type":"temporal","scale":{"domain":[{"year":2016,"month":2,"date":18},{"year":2016,"month":2,"date":26}]},"axis":null},"y":{"field":"rl","type":"quantitative","scale":{"domain":[-26,638.8]},"axis":null},"y2":{"field":"rh"}}},
   {"data":{"name":"wC"},"transform":[{"filter":"isValid(datum.bl)"}],"mark":{"type":"area","color":"#7878f0","opacity":0.4,"clip":true},"encoding":{"x":{"field":"t","type":"temporal","scale":{"domain":[{"year":2016,"month":2,"date":18},{"year":2016,"month":2,"date":26}]},"axis":null},"y":{"field":"bl","type":"quantitative","scale":{"domain":[-26,638.8]},"axis":null},"y2":{"field":"bh"}}},
   {"data":{"name":"wC"},"transform":[{"fold":["o","l","g","r","b"],"as":["ser","v"]},{"filter":"isValid(datum.v)"}],"mark":{"type":"line","strokeWidth":2.8,"clip":true},
    "encoding":{"x":{"field":"t","type":"temporal","scale":{"domain":[{"year":2016,"month":2,"date":18},{"year":2016,"month":2,"date":26}]},"axis":null},
     "y":{"field":"v","type":"quantitative","scale":{"domain":[-26,638.8]},"axis":{"orient":"left","values":[0,50,100,150,200,250,300,350,400,450,500,550,600],"labelExpr":"datum.value % 250 === 0 ? datum.label : ''","tickSize":{"condition":{"test":"datum.value % 250 === 0","value":19},"value":10},"labelPadding":8,"title":["WC of cryptogams","[% DW]"],"titleX":-130,"titleBaseline":"bottom","titleLineHeight":22,"grid":true,"gridDash":[2,3],"gridColor":"#888","gridOpacity":{"condition":{"test":"datum.value % 250 === 0","value":1},"value":0},"domainWidth":1.5,"tickWidth":1.5,"zindex":1}},
     "stroke":{"field":"ser","type":"nominal","scale":{"domain":["k","r","l","o","g","b"],"range":["#000000","#ec1c24","#84e01c","#f0b43c","#1a9a2a","#0c22e0"]},"legend":null}}},
   {"data":{"values":[{}]},"mark":{"type":"rule","opacity":0},"encoding":{"y":{"datum":0,"type":"quantitative","scale":{"domain":[-26,638.8]},"axis":{"orient":"right","values":[0,50,100,150,200,250,300,350,400,450,500,550,600],"labels":false,"title":null,"grid":false,"tickSize":{"condition":{"test":"datum.value % 250 === 0","value":19},"value":10},"domainWidth":1.5,"tickWidth":1.5,"zindex":1}}}},
   {"data":{"values":[{}]},"mark":{"type":"text","text":"(C)","align":"left","baseline":"top","dx":2},"encoding":{"x":{"datum":{"year":2016,"month":2,"date":18},"type":"temporal","scale":{"domain":[{"year":2016,"month":2,"date":18},{"year":2016,"month":2,"date":26}]},"axis":null},"y":{"datum":600,"type":"quantitative","scale":{"domain":[-26,638.8]},"axis":null}}}
  ],
  "resolve":{"axis":{"x":"independent","y":"independent"}}},
 {"width":607,"height":87,
  "layer":[
   {"data":{"name":"wN"},"mark":{"type":"rect","color":"#d9d9d9"},"encoding":{"x":{"field":"s","type":"temporal","scale":{"domain":[{"year":2016,"month":2,"date":18},{"year":2016,"month":2,"date":26}]},"axis":{"orient":"bottom","labels":false,"ticks":false,"title":null,"grid":false,"domainColor":"#9a9a9a","domainWidth":2.5,"zindex":1}},"x2":{"field":"e"}}},
   {"data":{"name":"wF"},"mark":{"type":"rect","color":"#44f0f0"},"encoding":{"x":{"field":"s","type":"temporal","scale":{"domain":[{"year":2016,"month":2,"date":18},{"year":2016,"month":2,"date":26}]},"axis":null},"x2":{"field":"e"},"y":{"datum":100,"type":"quantitative","scale":{"domain":[30.6,107.3]},"axis":null},"y2":{"datum":38.5}}},
   {"data":{"name":"wD"},"mark":{"type":"line","color":"#000","strokeWidth":3,"clip":true},
    "encoding":{"x":{"field":"t","type":"temporal","scale":{"domain":[{"year":2016,"month":2,"date":18},{"year":2016,"month":2,"date":26}]},"axis":null},
     "y":{"field":"h","type":"quantitative","scale":{"domain":[30.6,107.3]},"axis":{"orient":"left","values":[40,50,60,70,80,90,100],"labelExpr":"datum.value % 50 === 0 ? datum.label : ''","tickSize":{"condition":{"test":"datum.value % 50 === 0","value":19},"value":10},"labelPadding":8,"title":["RH","[%]"],"titleX":-130,"titleBaseline":"bottom","titleLineHeight":22,"grid":true,"gridDash":[2,3],"gridColor":"#888","gridOpacity":{"condition":{"test":"datum.value % 50 === 0","value":1},"value":0},"domainWidth":1.5,"tickWidth":1.5,"zindex":1}}}},
   {"data":{"values":[{}]},"mark":{"type":"rule","opacity":0},"encoding":{"y":{"datum":100,"type":"quantitative","scale":{"domain":[30.6,107.3]},"axis":{"orient":"right","labels":false,"ticks":false,"grid":false,"title":"Fog","titleColor":"#3ee6e6","titleFontSize":22,"titleX":12,"titleBaseline":"bottom","domainColor":"#44f0f0","domainWidth":2,"zindex":1}}}},
   {"data":{"values":[{}]},"mark":{"type":"text","text":"(D)","align":"left","baseline":"top","dx":2},"encoding":{"x":{"datum":{"year":2016,"month":2,"date":18},"type":"temporal","scale":{"domain":[{"year":2016,"month":2,"date":18},{"year":2016,"month":2,"date":26}]},"axis":null},"y":{"datum":88,"type":"quantitative","scale":{"domain":[30.6,107.3]},"axis":null}}}
  ],
  "resolve":{"axis":{"x":"independent","y":"independent"}}},
 {"width":607,"height":74,
  "layer":[
   {"data":{"name":"wN"},"mark":{"type":"rect","color":"#d9d9d9"},"encoding":{"x":{"field":"s","type":"temporal","scale":{"domain":[{"year":2016,"month":2,"date":18},{"year":2016,"month":2,"date":26}]},"axis":{"orient":"bottom","offset":5,"values":[{"year":2016,"month":2,"date":18},{"year":2016,"month":2,"date":19},{"year":2016,"month":2,"date":20},{"year":2016,"month":2,"date":21},{"year":2016,"month":2,"date":22},{"year":2016,"month":2,"date":23},{"year":2016,"month":2,"date":24},{"year":2016,"month":2,"date":25},{"year":2016,"month":2,"date":26}],"labelExpr":"date(datum.value) % 2 === 1 ? timeFormat(datum.value, '%d/%m/%Y') : ''","tickSize":{"condition":{"test":"date(datum.value) % 2 === 1","value":17},"value":12},"labelPadding":12,"labelFlush":false,"title":"Time [day/month/year]","titleFontSize":22,"titlePadding":18,"grid":false,"domainWidth":1.5,"tickWidth":1.5,"zindex":1}},"x2":{"field":"e"}}},
   {"data":{"name":"wR"},"mark":{"type":"rect","color":"#1a50e8"},"encoding":{"x":{"field":"s","type":"temporal","scale":{"domain":[{"year":2016,"month":2,"date":18},{"year":2016,"month":2,"date":26}]},"axis":null},"x2":{"field":"e"},
     "y":{"field":"v","type":"quantitative","scale":{"domain":[-4,45.3]},"axis":{"orient":"left","values":[0,10,20,30,40],"labelExpr":"datum.value % 20 === 0 ? datum.label : ''","tickSize":{"condition":{"test":"datum.value % 20 === 0","value":19},"value":10},"labelPadding":8,"title":["Rain","[mm h⁻¹]"],"titleX":-130,"titleBaseline":"bottom","titleLineHeight":22,"grid":true,"gridDash":[2,3],"gridColor":"#888","gridOpacity":{"condition":{"test":"datum.value % 20 === 0 && datum.value > 0","value":1},"value":0},"domainWidth":1.5,"tickWidth":1.5,"zindex":1}},"y2":{"datum":0}}},
   {"data":{"values":[{}]},"mark":{"type":"rule","color":"#1a50e8","strokeWidth":2},"encoding":{"y":{"datum":0,"type":"quantitative","scale":{"domain":[-4,45.3]},"axis":null}}},
   {"data":{"values":[{}]},"mark":{"type":"rule","opacity":0},"encoding":{"y":{"datum":0,"type":"quantitative","scale":{"domain":[-4,45.3]},"axis":{"orient":"right","values":[0,10,20,30,40],"labels":false,"title":null,"grid":false,"tickSize":{"condition":{"test":"datum.value % 20 === 0","value":19},"value":10},"domainWidth":1.5,"tickWidth":1.5,"zindex":1}}}},
   {"data":{"values":[{}]},"mark":{"type":"text","text":"(E)","align":"left","baseline":"top","dx":2},"encoding":{"x":{"datum":{"year":2016,"month":2,"date":18},"type":"temporal","scale":{"domain":[{"year":2016,"month":2,"date":18},{"year":2016,"month":2,"date":26}]},"axis":null},"y":{"datum":38.7,"type":"quantitative","scale":{"domain":[-4,45.3]},"axis":null}}}
  ],
  "resolve":{"axis":{"x":"independent","y":"independent"}}}
 ],
 "spacing":0,"bounds":"flush",
 "title":{"text":"a) Wet season","orient":"bottom","anchor":"start","frame":"bounds","offset":-32,"fontSize":24,"fontWeight":"bold","dx":-7}},
{"vconcat":[
 {"width":605,"height":227,
  "layer":[
   {"data":{"name":"dN"},"mark":{"type":"rect","color":"#d9d9d9"},"encoding":{"x":{"field":"s","type":"temporal","scale":{"domain":[{"year":2015,"month":10,"date":21},{"year":2015,"month":10,"date":29}]},"axis":{"orient":"bottom","labels":false,"ticks":false,"title":null,"grid":false,"domainColor":"#9a9a9a","domainWidth":2.5,"zindex":1}},"x2":{"field":"e"}}},
   {"data":{"name":"dA"},"transform":[{"fold":["b","g","o","l","r"],"as":["ser","v"]}],"mark":{"type":"line","strokeWidth":2.5,"clip":true},
    "encoding":{"x":{"field":"t","type":"temporal","scale":{"domain":[{"year":2015,"month":10,"date":21},{"year":2015,"month":10,"date":29}]},"axis":null},
     "y":{"field":"v","type":"quantitative","scale":{"domain":[-23.6,741.5]},"axis":{"orient":"left","values":[0,100,200,300,400,500,600,700],"labelExpr":"datum.value % 200 === 0 ? datum.label : ''","tickSize":{"condition":{"test":"datum.value % 200 === 0","value":19},"value":10},"labelPadding":8,"title":["PARavg","[µmol m⁻² s⁻¹ PPFD]"],"titleX":-130,"titleBaseline":"bottom","titleLineHeight":31,"grid":true,"gridDash":[2,3],"gridColor":"#888","gridOpacity":{"condition":{"test":"datum.value % 200 === 0 && datum.value > 0","value":1},"value":0},"domainWidth":1.5,"tickWidth":1.5,"zindex":1}},
     "stroke":{"field":"ser","type":"nominal","scale":{"domain":["k","r","l","o","g","b"],"range":["#000000","#ec1c24","#84e01c","#f0b43c","#1a9a2a","#0c22e0"]},"legend":null}}},
   {"data":{"name":"dA"},"mark":{"type":"line","color":"#000","strokeWidth":3,"clip":true},
    "encoding":{"x":{"field":"t","type":"temporal","scale":{"domain":[{"year":2015,"month":10,"date":21},{"year":2015,"month":10,"date":29}]},"axis":{"orient":"top","offset":4,"values":[{"year":2015,"month":10,"date":21},{"year":2015,"month":10,"date":22},{"year":2015,"month":10,"date":23},{"year":2015,"month":10,"date":24},{"year":2015,"month":10,"date":25},{"year":2015,"month":10,"date":26},{"year":2015,"month":10,"date":27},{"year":2015,"month":10,"date":28},{"year":2015,"month":10,"date":29}],"labels":false,"title":null,"grid":false,"tickSize":{"condition":{"test":"date(datum.value) % 2 === 1","value":18},"value":13},"domainWidth":1.5,"tickWidth":1.5,"zindex":1}},
     "y":{"field":"k","type":"quantitative","scale":{"domain":[-101,3178]},"axis":{"orient":"right","values":[0,500,1000,1500,2000,2500,3000],"format":"d","labelExpr":"datum.value % 1000 === 0 ? datum.label : ''","tickSize":{"condition":{"test":"datum.value % 1000 === 0","value":19},"value":10},"labelPadding":8,"title":["above canopy PARavg","[µmol m⁻² s⁻¹ PPFD]"],"titleX":137,"titleBaseline":"bottom","titleLineHeight":34,"grid":false,"domainWidth":1.5,"tickWidth":1.5,"zindex":1}}}},
   {"data":{"values":[{}]},"mark":{"type":"text","text":"(A)","align":"left","baseline":"top","dx":2},"encoding":{"x":{"datum":{"year":2015,"month":10,"date":21},"type":"temporal","scale":{"domain":[{"year":2015,"month":10,"date":21},{"year":2015,"month":10,"date":29}]},"axis":null},"y":{"datum":674,"type":"quantitative","scale":{"domain":[-23.6,741.5]},"axis":null}}}
  ],
  "resolve":{"scale":{"y":"independent"},"axis":{"x":"independent","y":"independent"}}},
 {"width":605,"height":230,
  "layer":[
   {"data":{"name":"dN"},"mark":{"type":"rect","color":"#d9d9d9"},"encoding":{"x":{"field":"s","type":"temporal","scale":{"domain":[{"year":2015,"month":10,"date":21},{"year":2015,"month":10,"date":29}]},"axis":{"orient":"bottom","labels":false,"ticks":false,"title":null,"grid":false,"domainColor":"#9a9a9a","domainWidth":2.5,"zindex":1}},"x2":{"field":"e"}}},
   {"data":{"name":"dB"},"transform":[{"fold":["b","g","o","l","k","r"],"as":["ser","v"]}],"mark":{"type":"line","strokeWidth":2.6,"clip":true},
    "encoding":{"x":{"field":"t","type":"temporal","scale":{"domain":[{"year":2015,"month":10,"date":21},{"year":2015,"month":10,"date":29}]},"axis":null},
     "y":{"field":"v","type":"quantitative","scale":{"domain":[19.67,38.83]},"axis":{"orient":"left","values":[20,21,22,23,24,25,26,27,28,29,30,31,32,33,34,35,36,37],"labelExpr":"datum.value % 5 === 0 ? datum.label : ''","tickSize":{"condition":{"test":"datum.value % 5 === 0","value":19},"value":10},"labelPadding":8,"title":["Temperature","[°C]"],"titleX":-130,"titleBaseline":"bottom","titleLineHeight":22,"grid":true,"gridDash":[2,3],"gridColor":"#888","gridOpacity":{"condition":{"test":"datum.value % 5 === 0","value":1},"value":0},"domainWidth":1.5,"tickWidth":1.5,"zindex":1}},
     "stroke":{"field":"ser","type":"nominal","scale":{"domain":["k","r","l","o","g","b"],"range":["#000000","#ec1c24","#84e01c","#f0b43c","#1a9a2a","#0c22e0"]},"legend":null}}},
   {"data":{"values":[{}]},"mark":{"type":"rule","opacity":0},"encoding":{"y":{"datum":25,"type":"quantitative","scale":{"domain":[19.67,38.83]},"axis":{"orient":"right","values":[20,21,22,23,24,25,26,27,28,29,30,31,32,33,34,35,36,37],"labels":false,"title":null,"grid":false,"tickSize":{"condition":{"test":"datum.value % 5 === 0","value":19},"value":10},"domainWidth":1.5,"tickWidth":1.5,"zindex":1}}}},
   {"data":{"values":[{}]},"mark":{"type":"text","text":"(B)","align":"left","baseline":"top","dx":2},"encoding":{"x":{"datum":{"year":2015,"month":10,"date":21},"type":"temporal","scale":{"domain":[{"year":2015,"month":10,"date":21},{"year":2015,"month":10,"date":29}]},"axis":null},"y":{"datum":37.2,"type":"quantitative","scale":{"domain":[19.67,38.83]},"axis":null}}}
  ],
  "resolve":{"axis":{"x":"independent","y":"independent"}}},
 {"width":605,"height":238,
  "layer":[
   {"data":{"name":"dN"},"mark":{"type":"rect","color":"#d9d9d9"},"encoding":{"x":{"field":"s","type":"temporal","scale":{"domain":[{"year":2015,"month":10,"date":21},{"year":2015,"month":10,"date":29}]},"axis":{"orient":"bottom","labels":false,"ticks":false,"title":null,"grid":false,"domainColor":"#9a9a9a","domainWidth":2.5,"zindex":1}},"x2":{"field":"e"}}},
   {"data":{"name":"dC"},"mark":{"type":"area","color":"#f07878","opacity":0.4,"clip":true},"encoding":{"x":{"field":"t","type":"temporal","scale":{"domain":[{"year":2015,"month":10,"date":21},{"year":2015,"month":10,"date":29}]},"axis":null},"y":{"field":"rl","type":"quantitative","scale":{"domain":[-26,638.8]},"axis":null},"y2":{"field":"rh"}}},
   {"data":{"name":"dC"},"transform":[{"fold":["o","l","g","b","r"],"as":["ser","v"]},{"filter":"isValid(datum.v)"}],"mark":{"type":"line","strokeWidth":2.8,"clip":true},
    "encoding":{"x":{"field":"t","type":"temporal","scale":{"domain":[{"year":2015,"month":10,"date":21},{"year":2015,"month":10,"date":29}]},"axis":null},
     "y":{"field":"v","type":"quantitative","scale":{"domain":[-26,638.8]},"axis":{"orient":"left","values":[0,50,100,150,200,250,300,350,400,450,500,550,600],"labelExpr":"datum.value % 250 === 0 ? datum.label : ''","tickSize":{"condition":{"test":"datum.value % 250 === 0","value":19},"value":10},"labelPadding":8,"title":["WC of cryptogams","[% DW]"],"titleX":-130,"titleBaseline":"bottom","titleLineHeight":22,"grid":true,"gridDash":[2,3],"gridColor":"#888","gridOpacity":{"condition":{"test":"datum.value % 250 === 0","value":1},"value":0},"domainWidth":1.5,"tickWidth":1.5,"zindex":1}},
     "stroke":{"field":"ser","type":"nominal","scale":{"domain":["k","r","l","o","g","b"],"range":["#000000","#ec1c24","#84e01c","#f0b43c","#1a9a2a","#0c22e0"]},"legend":null}}},
   {"data":{"values":[{}]},"mark":{"type":"rule","opacity":0},"encoding":{"y":{"datum":0,"type":"quantitative","scale":{"domain":[-26,638.8]},"axis":{"orient":"right","values":[0,50,100,150,200,250,300,350,400,450,500,550,600],"labels":false,"title":null,"grid":false,"tickSize":{"condition":{"test":"datum.value % 250 === 0","value":19},"value":10},"domainWidth":1.5,"tickWidth":1.5,"zindex":1}}}},
   {"data":{"values":[{}]},"mark":{"type":"text","text":"(C)","align":"left","baseline":"top","dx":2},"encoding":{"x":{"datum":{"year":2015,"month":10,"date":21},"type":"temporal","scale":{"domain":[{"year":2015,"month":10,"date":21},{"year":2015,"month":10,"date":29}]},"axis":null},"y":{"datum":600,"type":"quantitative","scale":{"domain":[-26,638.8]},"axis":null}}},
   {"data":{"values":[]},"mark":{"type":"point","filled":true},
    "encoding":{
     "color":{"field":"n","type":"nominal","scale":{"domain":["above canopy","23 m Liverwort","18 m Liverwort","\u200b\u00a0\u00a08 m Liverwort","\u200b\u00a0\u00a08 m Moss","1.5 m Moss","fog","rain","night"],"range":["#000000","#ec1c24","#84e01c","#f0b43c","#1a9a2a","#0c22e0","#44f0f0","#1a50e8","#d6d6de"]},
      "legend":{"orient":"none","legendX":1507,"legendY":425,"title":"Legend:","titleFontSize":20,"titleFontWeight":"normal","titleFont":"Liberation Sans","titleColor":"#000","labelFontSize":20,"labelFont":"Liberation Sans","labelColor":"#000","symbolSize":100,"symbolStrokeWidth":0,"symbolOffset":14,"labelOffset":24,"fillColor":"white","strokeColor":"#555","padding":7,"rowPadding":4}},
     "shape":{"field":"n","type":"nominal","scale":{"domain":["above canopy","23 m Liverwort","18 m Liverwort","\u200b\u00a0\u00a08 m Liverwort","\u200b\u00a0\u00a08 m Moss","1.5 m Moss","fog","rain","night"],"range":["M-4.1,-0.4H4.1V0.4H-4.1Z","M-4.1,-0.4H4.1V0.4H-4.1Z","M-4.1,-0.4H4.1V0.4H-4.1Z","M-4.1,-0.25H4.1V0.25H-4.1Z","M-4.1,-0.4H4.1V0.4H-4.1Z","M-4.1,-0.4H4.1V0.4H-4.1Z","M-2.2,-1.3H2.2V1.3H-2.2Z","M-2.2,-1.3H2.2V1.3H-2.2Z","M-2.2,-1.3H2.2V1.3H-2.2Z"]},
      "legend":{"orient":"none","legendX":1507,"legendY":425,"title":"Legend:","titleFontSize":20,"titleFontWeight":"normal","titleFont":"Liberation Sans","titleColor":"#000","labelFontSize":20,"labelFont":"Liberation Sans","labelColor":"#000","symbolSize":100,"symbolStrokeWidth":0,"symbolOffset":14,"labelOffset":24,"fillColor":"white","strokeColor":"#555","padding":7,"rowPadding":4}}}}
  ],
  "resolve":{"axis":{"x":"independent","y":"independent"}}},
 {"width":605,"height":87,
  "layer":[
   {"data":{"name":"dN"},"mark":{"type":"rect","color":"#d9d9d9"},"encoding":{"x":{"field":"s","type":"temporal","scale":{"domain":[{"year":2015,"month":10,"date":21},{"year":2015,"month":10,"date":29}]},"axis":{"orient":"bottom","labels":false,"ticks":false,"title":null,"grid":false,"domainColor":"#9a9a9a","domainWidth":2.5,"zindex":1}},"x2":{"field":"e"}}},
   {"data":{"name":"dD"},"mark":{"type":"line","color":"#000","strokeWidth":3,"clip":true},
    "encoding":{"x":{"field":"t","type":"temporal","scale":{"domain":[{"year":2015,"month":10,"date":21},{"year":2015,"month":10,"date":29}]},"axis":null},
     "y":{"field":"h","type":"quantitative","scale":{"domain":[30.6,107.3]},"axis":{"orient":"left","values":[40,50,60,70,80,90,100],"labelExpr":"datum.value % 50 === 0 ? datum.label : ''","tickSize":{"condition":{"test":"datum.value % 50 === 0","value":19},"value":10},"labelPadding":8,"title":["RH","[%]"],"titleX":-130,"titleBaseline":"bottom","titleLineHeight":22,"grid":true,"gridDash":[2,3],"gridColor":"#888","gridOpacity":{"condition":{"test":"datum.value % 50 === 0","value":1},"value":0},"domainWidth":1.5,"tickWidth":1.5,"zindex":1}}}},
   {"data":{"values":[{}]},"mark":{"type":"rule","opacity":0},"encoding":{"y":{"datum":100,"type":"quantitative","scale":{"domain":[30.6,107.3]},"axis":{"orient":"right","labels":false,"ticks":false,"grid":false,"title":"Fog","titleColor":"#3ee6e6","titleFontSize":22,"titleX":22,"titleBaseline":"bottom","domainColor":"#44f0f0","domainWidth":2,"zindex":1}}}},
   {"data":{"values":[{}]},"mark":{"type":"text","text":"(D)","align":"left","baseline":"top","dx":2},"encoding":{"x":{"datum":{"year":2015,"month":10,"date":21},"type":"temporal","scale":{"domain":[{"year":2015,"month":10,"date":21},{"year":2015,"month":10,"date":29}]},"axis":null},"y":{"datum":88,"type":"quantitative","scale":{"domain":[30.6,107.3]},"axis":null}}}
  ],
  "resolve":{"axis":{"x":"independent","y":"independent"}}},
 {"width":605,"height":74,
  "layer":[
   {"data":{"name":"dN"},"mark":{"type":"rect","color":"#d9d9d9"},"encoding":{"x":{"field":"s","type":"temporal","scale":{"domain":[{"year":2015,"month":10,"date":21},{"year":2015,"month":10,"date":29}]},"axis":{"orient":"bottom","offset":5,"values":[{"year":2015,"month":10,"date":21},{"year":2015,"month":10,"date":22},{"year":2015,"month":10,"date":23},{"year":2015,"month":10,"date":24},{"year":2015,"month":10,"date":25},{"year":2015,"month":10,"date":26},{"year":2015,"month":10,"date":27},{"year":2015,"month":10,"date":28},{"year":2015,"month":10,"date":29}],"labelExpr":"date(datum.value) % 2 === 1 ? timeFormat(datum.value, '%d/%m/%Y') : ''","tickSize":{"condition":{"test":"date(datum.value) % 2 === 1","value":17},"value":12},"labelPadding":12,"labelFlush":false,"title":"Time [day/month/year]","titleFontSize":22,"titlePadding":18,"grid":false,"domainWidth":1.5,"tickWidth":1.5,"zindex":1}},"x2":{"field":"e"}}},
   {"data":{"name":"dR"},"mark":{"type":"rect","color":"#1a50e8"},"encoding":{"x":{"field":"s","type":"temporal","scale":{"domain":[{"year":2015,"month":10,"date":21},{"year":2015,"month":10,"date":29}]},"axis":null},"x2":{"field":"e"},
     "y":{"field":"v","type":"quantitative","scale":{"domain":[-4,45.3]},"axis":{"orient":"left","values":[0,10,20,30,40],"labelExpr":"datum.value % 20 === 0 ? datum.label : ''","tickSize":{"condition":{"test":"datum.value % 20 === 0","value":19},"value":10},"labelPadding":8,"title":["Rain","[mm h⁻¹]"],"titleX":-130,"titleBaseline":"bottom","titleLineHeight":22,"grid":true,"gridDash":[2,3],"gridColor":"#888","gridOpacity":{"condition":{"test":"datum.value % 20 === 0 && datum.value > 0","value":1},"value":0},"domainWidth":1.5,"tickWidth":1.5,"zindex":1}},"y2":{"datum":0}}},
   {"data":{"values":[{}]},"mark":{"type":"rule","color":"#1a50e8","strokeWidth":2},"encoding":{"y":{"datum":0,"type":"quantitative","scale":{"domain":[-4,45.3]},"axis":null}}},
   {"data":{"values":[{}]},"mark":{"type":"rule","opacity":0},"encoding":{"y":{"datum":0,"type":"quantitative","scale":{"domain":[-4,45.3]},"axis":{"orient":"right","values":[0,10,20,30,40],"labels":false,"title":null,"grid":false,"tickSize":{"condition":{"test":"datum.value % 20 === 0","value":19},"value":10},"domainWidth":1.5,"tickWidth":1.5,"zindex":1}}}},
   {"data":{"values":[{}]},"mark":{"type":"text","text":"(E)","align":"left","baseline":"top","dx":2},"encoding":{"x":{"datum":{"year":2015,"month":10,"date":21},"type":"temporal","scale":{"domain":[{"year":2015,"month":10,"date":21},{"year":2015,"month":10,"date":29}]},"axis":null},"y":{"datum":38.7,"type":"quantitative","scale":{"domain":[-4,45.3]},"axis":null}}}
  ],
  "resolve":{"axis":{"x":"independent","y":"independent"}}}
 ],
 "spacing":0,"bounds":"flush",
 "title":{"text":"b) Dry season","orient":"bottom","anchor":"start","frame":"bounds","offset":-32,"fontSize":24,"fontWeight":"bold","dx":-7}}
],
"spacing":948,"bounds":"flush"
}
